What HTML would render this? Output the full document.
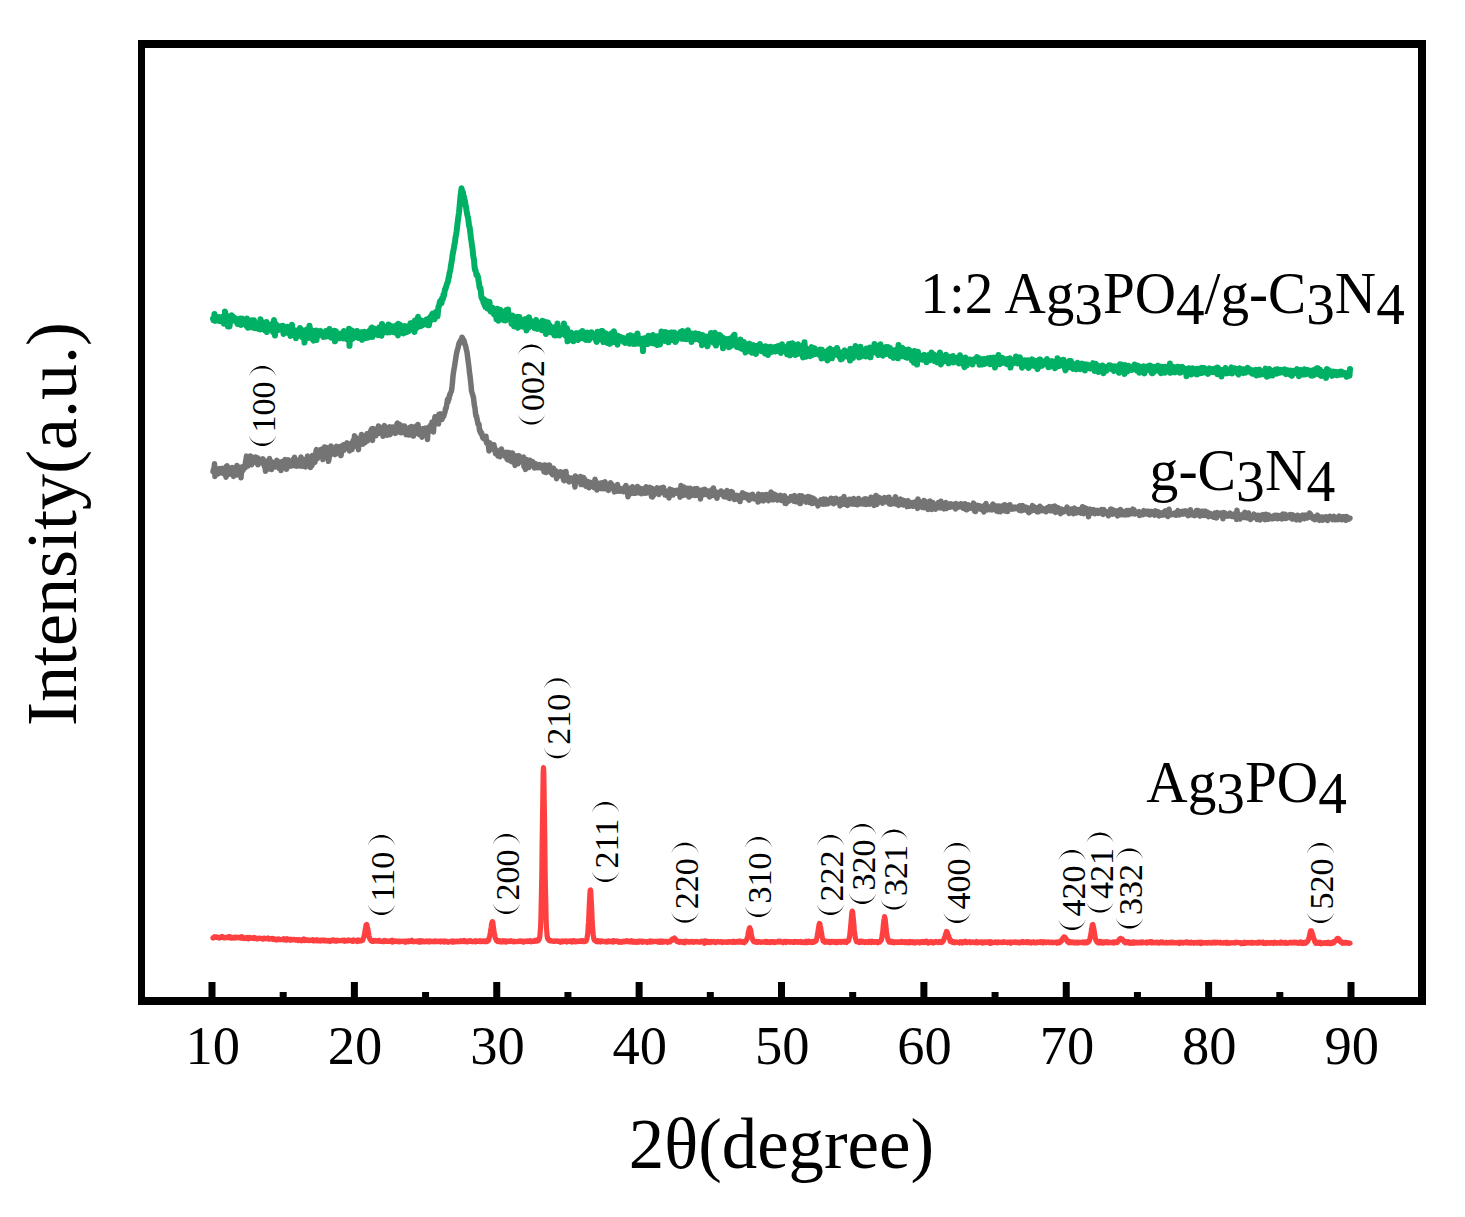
<!DOCTYPE html>
<html><head><meta charset="utf-8"><style>
html,body{margin:0;padding:0;background:#fff;width:1465px;height:1217px;overflow:hidden}
svg{display:block}
text{font-family:"Liberation Serif",serif;fill:#000}
.t{font-size:54.5px;text-anchor:middle}
.ax{font-size:72px;text-anchor:middle}
.lb{font-size:60px}
.h{font-size:34px}
</style></head><body>
<svg width="1465" height="1217" viewBox="0 0 1465 1217">
<rect x="0" y="0" width="1465" height="1217" fill="#fff"/>
<path d="M213.0,318.6l0.5,1.6 0.5,-1.4 0.5,-4.9 0.5,7 0.5,-1.2 0.5,-2.9 0.5,3.6 0.5,-0.6 0.5,-0.1 0.5,-0.7 0.5,1.8 0.5,-3.9 0.5,1.9 0.5,-0.9 0.5,3.4 0.5,-1.7 0.5,-0.9 0.5,-1.5 0.5,1.7 0.5,0.8 0.5,-0.8 0.5,4.9 0.5,-0.9 0.5,-11.4 0.5,2.5 0.5,5.4 0.5,-0.8 0.5,2 0.5,0.1 0.5,5.9 0.5,-10 0.5,2.3 0.5,7.5 0.5,-4.2 0.5,0 0.5,-3.6 0.5,-3.4 0.5,5.6 0.5,-0.1 0.5,-4.1 0.5,1.7 0.5,2 0.5,-2.7 0.5,2.7 0.5,0.7 0.5,-0.1 0.5,-1.6 0.5,3.6 0.5,1 0.5,-1.6 0.5,-3.4 0.5,4.9 0.5,-3.7 0.5,4.4 0.5,-5.9 0.5,6.3 0.5,-2.8 0.5,-3.6 0.5,3 0.5,1.3 0.5,0.8 0.5,-3.7 0.5,-0.3 0.5,4.2 0.5,-2 0.5,2.3 0.5,1.8 0.5,-7.4 0.5,6 0.5,3.2 0.5,-4.6 0.5,-1.5 0.5,5 0.5,-1.4 0.5,2.1 0.5,-3.7 0.5,-3.4 0.5,4.3 0.5,-0.9 0.5,3.9 0.5,-1.7 0.5,-5.5 0.5,1.4 0.5,6.5 0.5,-0.5 0.5,-4 0.5,2.1 0.5,1.4 0.5,0.2 0.5,1.3 0.5,-1.8 0.5,-1.1 0.5,-0.4 0.5,4.1 0.5,-10.2 0.5,6.6 0.5,0.5 0.5,-4.4 0.5,5.4 0.5,-3 0.5,4.7 0.5,-3 0.5,2.5 0.5,1.7 0.5,-2.5 0.5,-3.9 0.5,-1.9 0.5,10.1 0.5,-5.7 0.5,-1.7 0.5,2.6 0.5,-1 0.5,3.3 0.5,-2.5 0.5,0 0.5,-2.2 0.5,3.7 0.5,-4.5 0.5,5.3 0.5,2.7 0.5,-9.3 0.5,-2.8 0.5,9.6 0.5,6 0.5,-10.9 0.5,-0.6 0.5,5.7 0.5,-4.3 0.5,1.1 0.5,0.6 0.5,2.8 0.5,-2.8 0.5,2.3 0.5,-1.3 0.5,-2 0.5,1.7 0.5,-1.8 0.5,3 0.5,-3.4 0.5,0.2 0.5,8 0.5,-4.6 0.5,0.1 0.5,1.9 0.5,-2.8 0.5,0.7 0.5,2.2 0.5,-0.3 0.5,-4.4 0.5,6.3 0.5,-4.3 0.5,-1.3 0.5,0.6 0.5,1.7 0.5,6.3 0.5,-8.5 0.5,4.2 0.5,-6.9 0.5,6.7 0.5,2.9 0.5,-3.4 0.5,-1.1 0.5,2.7 0.5,1.6 0.5,-0.1 0.5,4.2 0.5,-5.4 0.5,-2.3 0.5,1.5 0.5,0.3 0.5,0.6 0.5,-0.3 0.5,0.7 0.5,-5.5 0.5,7.8 0.5,-4.3 0.5,-1.7 0.5,5.6 0.5,2.2 0.5,-2.4 0.5,-1 0.5,-3.3 0.5,11.8 0.5,-6.1 0.5,-6.1 0.5,1.1 0.5,2.7 0.5,-5 0.5,5.3 0.5,-1.9 0.5,5.3 0.5,-0.8 0.5,-11.3 0.5,8.5 0.5,-5.1 0.5,8.4 0.5,-2.9 0.5,1.2 0.5,-4.9 0.5,8.9 0.5,0.6 0.5,-9.5 0.5,4.4 0.5,-3.2 0.5,2.1 0.5,-3.8 0.5,9.6 0.5,-8.7 0.5,2.1 0.5,2.5 0.5,-3.6 0.5,1.3 0.5,-1 0.5,1.4 0.5,-3.2 0.5,2.3 0.5,0.7 0.5,-0.3 0.5,1.2 0.5,-1 0.5,3.2 0.5,-3.3 0.5,0.6 0.5,-1.5 0.5,0.4 0.5,-2.2 0.5,5.5 0.5,-5.1 0.5,1.3 0.5,3.4 0.5,0.2 0.5,-2.4 0.5,-5 0.5,7.6 0.5,-0.5 0.5,-5.1 0.5,6.8 0.5,-4.5 0.5,-1.2 0.5,3.8 0.5,-0.8 0.5,1.2 0.5,-5.5 0.5,10.6 0.5,-7.4 0.5,-2.8 0.5,6.7 0.5,-2.9 0.5,2.1 0.5,-2 0.5,0.9 0.5,1 0.5,-3 0.5,4.4 0.5,-3.4 0.5,-1.2 0.5,2.9 0.5,1.2 0.5,-2.1 0.5,-1.9 0.5,4.6 0.5,-7.3 0.5,2.2 0.5,3.3 0.5,-4.3 0.5,4.3 0.5,-0.3 0.5,2.9 0.5,-5.6 0.5,0.9 0.5,2.9 0.5,-8.6 0.5,17 0.5,-11.7 0.5,-0.1 0.5,4.8 0.5,-2.8 0.5,-5.4 0.5,7.3 0.5,0.6 0.5,-4 0.5,0.4 0.5,2.3 0.5,-4.4 0.5,4.1 0.5,-0.8 0.5,-2.8 0.5,-2.3 0.5,3.5 0.5,-2.1 0.5,5.7 0.5,-2.7 0.5,1.8 0.5,-2 0.5,0.3 0.5,-3.3 0.5,4.3 0.5,3.4 0.5,-6.6 0.5,-0.9 0.5,1.2 0.5,-1.1 0.5,-0.7 0.5,2.5 0.5,-1.4 0.5,5.2 0.5,-4.5 0.5,0.9 0.5,1.8 0.5,-3.9 0.5,5.2 0.5,-6.4 0.5,-0.6 0.5,1.3 0.5,0.7 0.5,-4 0.5,4.1 0.5,-5.1 0.5,9.3 0.5,-4.6 0.5,-1.8 0.5,-0.9 0.5,1.5 0.5,0.4 0.5,-2.6 0.5,0.3 0.5,2.1 0.5,-1.1 0.5,4.4 0.5,0.5 0.5,-3.5 0.5,1.3 0.5,-5.7 0.5,6 0.5,-2.2 0.5,1.5 0.5,3.3 0.5,-11.9 0.5,7.6 0.5,-4.2 0.5,5.1 0.5,-6 0.5,2.5 0.5,2 0.5,1.2 0.5,-1.8 0.5,-2.7 0.5,0.7 0.5,4.3 0.5,-2.8 0.5,-5.2 0.5,7.6 0.5,-1.3 0.5,1.3 0.5,-3.8 0.5,3.5 0.5,-5.8 0.5,4.9 0.5,-3.3 0.5,3.5 0.5,1 0.5,-5.3 0.5,2 0.5,0.3 0.5,3.5 0.5,-1.5 0.5,-5.9 0.5,5.1 0.5,0.8 0.5,4.2 0.5,-11.6 0.5,3.5 0.5,5.7 0.5,-8.2 0.5,0.4 0.5,5.3 0.5,1.5 0.5,-5.2 0.5,3.7 0.5,-1.3 0.5,4.3 0.5,-4.7 0.5,3.1 0.5,-5.8 0.5,2.2 0.5,0.2 0.5,3.8 0.5,-1.8 0.5,-4 0.5,4.3 0.5,0.3 0.5,-2.7 0.5,-0.5 0.5,0 0.5,-4.7 0.5,5.5 0.5,-0.1 0.5,-3.7 0.5,4.6 0.5,-6.8 0.5,2.2 0.5,-0.2 0.5,7.2 0.5,-11.3 0.5,6.2 0.5,0.9 0.5,-2.1 0.5,2.2 0.5,-6.9 0.5,-4.1 0.5,9.2 0.5,-6.2 0.5,2.5 0.5,-2.7 0.5,6.7 0.5,-0.7 0.5,-5 0.5,4.8 0.5,-2.5 0.5,-0.9 0.5,0.5 0.5,-0.9 0.5,2.3 0.5,-1.1 0.5,-2.1 0.5,3.9 0.5,-5.1 0.5,2.5 0.5,0.2 0.5,2.9 0.5,-6.3 0.5,6.5 0.5,-5.1 0.5,-1.5 0.5,-1.8 0.5,3.4 0.5,-2.1 0.5,-3.9 0.5,-0.6 0.5,1.2 0.5,-0.9 0.5,4.8 0.5,0.3 0.5,-2.1 0.5,-2.2 0.5,-3.1 0.5,0.5 0.5,1.5 0.5,2.7 0.5,-4.9 0.5,-4.9 0.5,-0.3 0.5,-2.8 0.5,-2.1 0.5,0.8 0.5,-0.7 0.5,1.7 0.5,-4.6 0.5,0.9 0.5,-0.7 0.5,-4.4 0.5,1.3 0.5,-3.1 0.5,-3.5 0.5,-0.2 0.5,-1.8 0.5,-1.7 0.5,-1.5 0.5,-1.3 0.5,-1.4 0.5,-3 0.5,-1.4 0.5,-3.9 0.5,-1.5 0.5,-2.7 0.5,-3.4 0.5,-2.9 0.5,-2.9 0.5,-4.2 0.5,-2.7 0.5,-2.5 0.5,-2.7 0.5,-3.5 0.5,-1.4 0.5,-5.2 0.5,-2.2 0.5,-2.9 0.5,-4.4 0.5,-4.1 0.5,-4.2 0.5,-3.4 0.5,-3.8 0.5,-5.1 0.5,-5.1 0.5,-6.1 0.5,-3.7 0.5,-4 0.5,2.3 0.5,1.1 0.5,0.7 0.5,4.9 0.5,-0.6 0.5,2.4 0.5,2.1 0.5,4.4 0.5,1 0.5,3.9 0.5,2.7 0.5,2.5 0.5,1.6 0.5,3.6 0.5,4.8 0.5,0.8 0.5,3.7 0.5,3.9 0.5,4.3 0.5,3.2 0.5,4.3 0.5,2.6 0.5,5.5 0.5,3.6 0.5,2.4 0.5,6.4 0.5,3.7 0.5,-0.1 0.5,2.5 0.5,2.6 0.5,-0.7 0.5,1.3 0.5,1.3 0.5,3.5 0.5,2.2 0.5,4.4 0.5,1.6 0.5,-0.7 0.5,5.2 0.5,4.3 0.5,0.7 0.5,1.5 0.5,0 0.5,3.1 0.5,-3.6 0.5,5.9 0.5,-2 0.5,4 0.5,-1.6 0.5,-4.4 0.5,3.9 0.5,3.6 0.5,-6.8 0.5,2.1 0.5,-0.3 0.5,-1.7 0.5,7.9 0.5,1.6 0.5,-1 0.5,-1.2 0.5,-0.3 0.5,1.5 0.5,-2.4 0.5,5.5 0.5,1 0.5,0.2 0.5,-3.9 0.5,2.4 0.5,-0.3 0.5,6.3 0.5,-4.4 0.5,-6 0.5,7.2 0.5,4.8 0.5,-3.4 0.5,0.9 0.5,-2.4 0.5,-5.8 0.5,0.7 0.5,1.9 0.5,3.6 0.5,1.5 0.5,1.3 0.5,-2.9 0.5,4.1 0.5,-3.6 0.5,-1.1 0.5,4.8 0.5,-5.1 0.5,-5.4 0.5,5.3 0.5,3.6 0.5,-9.4 0.5,8.4 0.5,0.3 0.5,-3.2 0.5,0 0.5,3.3 0.5,-0.1 0.5,5.6 0.5,-2.5 0.5,-5.8 0.5,2.3 0.5,4.9 0.5,3.7 0.5,-4.5 0.5,-0.1 0.5,4.7 0.5,-5.6 0.5,-0.8 0.5,-3.3 0.5,2.8 0.5,8.2 0.5,-10.8 0.5,4.3 0.5,-4.2 0.5,4.7 0.5,2.3 0.5,-3.4 0.5,3 0.5,0 0.5,-0.8 0.5,3.9 0.5,-2.7 0.5,-3.2 0.5,-1.1 0.5,-0.4 0.5,4.1 0.5,-2.3 0.5,9.3 0.5,-2.6 0.5,-6 0.5,-0.2 0.5,6.2 0.5,-10.6 0.5,4.5 0.5,4.4 0.5,-5.5 0.5,1.5 0.5,0.6 0.5,3.2 0.5,-1.4 0.5,1 0.5,0.8 0.5,-1.6 0.5,3.5 0.5,-5.4 0.5,-2 0.5,-0.8 0.5,0.6 0.5,3.4 0.5,5 0.5,-2.5 0.5,-2.2 0.5,-1.2 0.5,1.8 0.5,0.5 0.5,-0.4 0.5,-2.4 0.5,3 0.5,4.7 0.5,-9.5 0.5,6 0.5,-5.6 0.5,7.1 0.5,-2.6 0.5,-3.9 0.5,6.7 0.5,5.4 0.5,-5.1 0.5,3.4 0.5,-3.6 0.5,-6.1 0.5,8.1 0.5,-2.6 0.5,-3 0.5,6.9 0.5,-1.4 0.5,-2.3 0.5,4.4 0.5,-5.1 0.5,4.7 0.5,-4.6 0.5,4.6 0.5,-4.8 0.5,7.9 0.5,-3.5 0.5,3.7 0.5,-6.7 0.5,1.2 0.5,4.2 0.5,-10.7 0.5,5.3 0.5,6.5 0.5,-1.5 0.5,1.7 0.5,-3.7 0.5,2.8 0.5,-3.7 0.5,-1.7 0.5,-0.8 0.5,3.6 0.5,0.2 0.5,-0.1 0.5,-8.6 0.5,4.8 0.5,4.6 0.5,2.7 0.5,-2.5 0.5,-0.7 0.5,-4.2 0.5,13.1 0.5,-9.2 0.5,8.5 0.5,-0.3 0.5,-3.8 0.5,-2.4 0.5,2.2 0.5,-3.8 0.5,4.3 0.5,-0.8 0.5,1.6 0.5,1.3 0.5,2.4 0.5,-6.4 0.5,4.3 0.5,-5.5 0.5,-0.2 0.5,0.8 0.5,-1.1 0.5,5.9 0.5,-0.1 0.5,1 0.5,-3.9 0.5,1 0.5,-2.6 0.5,-1.7 0.5,4.8 0.5,-0.5 0.5,-4.1 0.5,5.1 0.5,-7 0.5,4.7 0.5,-1.4 0.5,0.3 0.5,-1.6 0.5,6.1 0.5,-1.1 0.5,1.8 0.5,-3.1 0.5,-4.3 0.5,2.8 0.5,-2.4 0.5,4.9 0.5,2.3 0.5,-2.7 0.5,-2.7 0.5,0.7 0.5,1.7 0.5,-4.9 0.5,4.8 0.5,0.2 0.5,-2.2 0.5,0.4 0.5,1.8 0.5,-2.9 0.5,0 0.5,4.9 0.5,-1.6 0.5,4.4 0.5,-8 0.5,-2.3 0.5,8.2 0.5,0.1 0.5,-5.1 0.5,-2.1 0.5,4.3 0.5,-5.1 0.5,4.3 0.5,-5.4 0.5,5.8 0.5,-5.6 0.5,5.7 0.5,5.3 0.5,-5.3 0.5,3.2 0.5,-4.2 0.5,-0.7 0.5,-1.8 0.5,7.7 0.5,-3.2 0.5,5.1 0.5,-8.4 0.5,2.9 0.5,1 0.5,4.1 0.5,1.3 0.5,-7.4 0.5,-1.3 0.5,-1.8 0.5,9.3 0.5,-4.2 0.5,-1.6 0.5,1.9 0.5,-7.5 0.5,2.6 0.5,8.1 0.5,-1.6 0.5,-0.7 0.5,-3.3 0.5,4.8 0.5,3.6 0.5,-8.9 0.5,3.8 0.5,-1.3 0.5,2.4 0.5,-1 0.5,-0.4 0.5,-2.2 0.5,2.6 0.5,-1.7 0.5,1.4 0.5,0.2 0.5,2.2 0.5,-3.7 0.5,0.8 0.5,4.1 0.5,-3.8 0.5,-0.1 0.5,3.3 0.5,-1.7 0.5,-0.6 0.5,0.4 0.5,-4.4 0.5,5.1 0.5,2.6 0.5,-2.2 0.5,-6.4 0.5,5.5 0.5,-3.5 0.5,2 0.5,1.1 0.5,-4 0.5,7.6 0.5,-4.2 0.5,2.5 0.5,-0.4 0.5,2.1 0.5,-0.5 0.5,-7.9 0.5,4.5 0.5,-6.5 0.5,5.1 0.5,3.4 0.5,0.6 0.5,1.1 0.5,-4.9 0.5,2.1 0.5,-0.7 0.5,3.5 0.5,0.9 0.5,-5.8 0.5,12.3 0.5,-11.3 0.5,-1.1 0.5,2.9 0.5,0.4 0.5,-0.7 0.5,-3.6 0.5,6.3 0.5,-4.2 0.5,4.3 0.5,-0.4 0.5,-8 0.5,0.8 0.5,-0.1 0.5,3.6 0.5,-0.6 0.5,0.6 0.5,-3.3 0.5,3.7 0.5,2.8 0.5,-8.2 0.5,3.3 0.5,1.3 0.5,-1.2 0.5,-0.2 0.5,5.8 0.5,-1.5 0.5,-1.4 0.5,-4.8 0.5,8.8 0.5,-5.6 0.5,-2.9 0.5,0.7 0.5,-0.5 0.5,7.7 0.5,-5.8 0.5,-0.5 0.5,-6.6 0.5,8.5 0.5,-5.4 0.5,-0.3 0.5,5.1 0.5,-4.5 0.5,5 0.5,0.8 0.5,-8.8 0.5,4.9 0.5,-4.4 0.5,4.5 0.5,2.8 0.5,-6.9 0.5,9.4 0.5,-6.4 0.5,-2.6 0.5,3.1 0.5,2.6 0.5,-6.5 0.5,4.1 0.5,-4.1 0.5,7.6 0.5,-3.1 0.5,-1.8 0.5,4.3 0.5,-6.9 0.5,2.7 0.5,6.6 0.5,-5.8 0.5,4.4 0.5,-3.5 0.5,-2.6 0.5,1.3 0.5,1 0.5,-1.5 0.5,-1.2 0.5,0.1 0.5,-2.1 0.5,4.8 0.5,0.8 0.5,1.1 0.5,-7.6 0.5,7.7 0.5,-2.4 0.5,-4.2 0.5,4.5 0.5,2.2 0.5,-0.9 0.5,0.6 0.5,0.6 0.5,-0.1 0.5,-2.8 0.5,-6 0.5,3.9 0.5,3.3 0.5,-2.5 0.5,3.5 0.5,0.3 0.5,-2.2 0.5,5.4 0.5,-8.4 0.5,5.6 0.5,-4.1 0.5,-0.9 0.5,4.1 0.5,-3.5 0.5,4.5 0.5,-6 0.5,3.7 0.5,-2.5 0.5,1.9 0.5,-0.3 0.5,-2.1 0.5,5.4 0.5,-5.5 0.5,1 0.5,5.6 0.5,0.4 0.5,-0.7 0.5,-0.9 0.5,5.9 0.5,-10.2 0.5,1.5 0.5,-0.6 0.5,5.8 0.5,-1.7 0.5,2.5 0.5,-0.2 0.5,-3.5 0.5,-1.6 0.5,-0.5 0.5,9.6 0.5,-3.6 0.5,-1 0.5,-2.7 0.5,0.4 0.5,-0.4 0.5,0.1 0.5,-6.1 0.5,7 0.5,-1 0.5,2.1 0.5,-0.3 0.5,2 0.5,-2.6 0.5,2.5 0.5,-9.9 0.5,4.3 0.5,8.4 0.5,-8.7 0.5,2.8 0.5,2.9 0.5,-4.7 0.5,4.8 0.5,-6.3 0.5,-1.5 0.5,1.8 0.5,-0.9 0.5,4.8 0.5,-0.9 0.5,2 0.5,-4 0.5,10.6 0.5,-7.8 0.5,0.2 0.5,1.5 0.5,-2 0.5,-1.1 0.5,2.1 0.5,2.5 0.5,-0.7 0.5,0.9 0.5,-4.4 0.5,-0.5 0.5,8.3 0.5,-6.5 0.5,2.3 0.5,0.9 0.5,2.1 0.5,-8 0.5,2.8 0.5,0.3 0.5,0.6 0.5,-6 0.5,7 0.5,-8 0.5,9.6 0.5,0.9 0.5,0.4 0.5,-5.1 0.5,6.6 0.5,-5.2 0.5,-0.8 0.5,0.9 0.5,0.6 0.5,3.2 0.5,2.1 0.5,-8.4 0.5,4.8 0.5,4.4 0.5,-1.9 0.5,1 0.5,-5.8 0.5,7.4 0.5,-7.3 0.5,5.3 0.5,3.5 0.5,1.6 0.5,-3.9 0.5,1.2 0.5,-4.3 0.5,0.5 0.5,4.9 0.5,-3.3 0.5,-0.3 0.5,-3.7 0.5,4.7 0.5,1.5 0.5,-4.1 0.5,0.9 0.5,6.2 0.5,-4 0.5,-1.3 0.5,-2.4 0.5,1.6 0.5,1.1 0.5,4.8 0.5,-5.7 0.5,7.1 0.5,-8 0.5,1.8 0.5,3.5 0.5,-3.1 0.5,-1.7 0.5,2.1 0.5,1.7 0.5,-6.3 0.5,4.3 0.5,0.4 0.5,-0.9 0.5,3.4 0.5,-3.9 0.5,0.6 0.5,1.2 0.5,2 0.5,-2.7 0.5,5 0.5,-7.1 0.5,6.5 0.5,-6.3 0.5,2 0.5,1.6 0.5,4.9 0.5,-3.4 0.5,-3.8 0.5,5 0.5,-4.4 0.5,-1.7 0.5,3.6 0.5,-1 0.5,2.5 0.5,-4.4 0.5,2.7 0.5,0.8 0.5,-1.1 0.5,-0.9 0.5,-1.9 0.5,4.6 0.5,-2.2 0.5,1.1 0.5,-2.5 0.5,1 0.5,-3 0.5,3.3 0.5,1.9 0.5,-1.9 0.5,2.2 0.5,-1.6 0.5,3.1 0.5,-4.6 0.5,-4.2 0.5,6.1 0.5,-1.8 0.5,-2.4 0.5,4.8 0.5,-1.1 0.5,0.5 0.5,-2.3 0.5,1.6 0.5,0.1 0.5,4.5 0.5,-7.2 0.5,2 0.5,1.1 0.5,-6.1 0.5,0.3 0.5,11 0.5,-11.5 0.5,6.9 0.5,-4.2 0.5,0.3 0.5,-3.6 0.5,3.2 0.5,4.9 0.5,-6.4 0.5,5.8 0.5,-0.8 0.5,5 0.5,-7.3 0.5,5.1 0.5,-1 0.5,-3.4 0.5,-4 0.5,9.4 0.5,-8.3 0.5,2.6 0.5,4.1 0.5,0.8 0.5,-5.7 0.5,2.5 0.5,-0.5 0.5,4.3 0.5,3.9 0.5,-12.5 0.5,8.1 0.5,-10.8 0.5,8.5 0.5,-3.2 0.5,9.2 0.5,-5.2 0.5,-2.6 0.5,0.8 0.5,-0.1 0.5,2.4 0.5,-0.9 0.5,2.4 0.5,2.7 0.5,-2.4 0.5,-5.5 0.5,-1.1 0.5,2.6 0.5,5.3 0.5,-4 0.5,-0.9 0.5,2.4 0.5,-4.4 0.5,0.8 0.5,4.9 0.5,-2.3 0.5,-0.4 0.5,2.3 0.5,-2.6 0.5,-0.2 0.5,0.7 0.5,3.2 0.5,-1.6 0.5,-3.6 0.5,2.7 0.5,2.8 0.5,3.6 0.5,-8.7 0.5,4.4 0.5,-1.7 0.5,3.2 0.5,-1.1 0.5,3 0.5,-2.7 0.5,-3.1 0.5,0 0.5,2.8 0.5,0 0.5,5.8 0.5,-2 0.5,-8.3 0.5,4.4 0.5,-4.9 0.5,-0.9 0.5,7 0.5,-0.6 0.5,-4.6 0.5,7.8 0.5,-7.6 0.5,-0.6 0.5,5.3 0.5,-1.3 0.5,-1.1 0.5,0.3 0.5,0.9 0.5,-1.1 0.5,-0.1 0.5,-5 0.5,1.6 0.5,5.7 0.5,-3.8 0.5,3.6 0.5,2 0.5,-4.6 0.5,1.8 0.5,5.2 0.5,-4 0.5,3.3 0.5,-0.8 0.5,-2.3 0.5,-2.5 0.5,-2.1 0.5,-0.8 0.5,4.6 0.5,0 0.5,-1.9 0.5,3 0.5,-4.3 0.5,5 0.5,-3.1 0.5,-0.2 0.5,0 0.5,-0.3 0.5,7.5 0.5,-11.9 0.5,5.1 0.5,3.1 0.5,-1.6 0.5,-3 0.5,5.8 0.5,-8.1 0.5,-0.7 0.5,5.3 0.5,-5.9 0.5,-2.7 0.5,9.3 0.5,-0.4 0.5,-0.1 0.5,-3.6 0.5,1.9 0.5,-3.4 0.5,7.7 0.5,-2.8 0.5,-0.2 0.5,-7.7 0.5,7.8 0.5,1.9 0.5,-0.8 0.5,-1.3 0.5,-2.3 0.5,-1 0.5,2.7 0.5,-0.7 0.5,-0.4 0.5,-1.6 0.5,5.6 0.5,-8.1 0.5,3.2 0.5,-1.6 0.5,4.5 0.5,1 0.5,-0.5 0.5,-1.4 0.5,-6.1 0.5,9.7 0.5,-4.4 0.5,-1.8 0.5,0.3 0.5,-1 0.5,2.1 0.5,-0.4 0.5,-1.9 0.5,-6.1 0.5,7 0.5,1.4 0.5,0.1 0.5,-1.9 0.5,1.6 0.5,1.6 0.5,-4.2 0.5,5.4 0.5,-9.5 0.5,1.9 0.5,1 0.5,-4.2 0.5,4 0.5,6.1 0.5,0 0.5,-3.1 0.5,4.4 0.5,-4 0.5,-2 0.5,2 0.5,-1 0.5,2.4 0.5,-6.1 0.5,6.9 0.5,-4 0.5,3.6 0.5,-6.4 0.5,3 0.5,1.4 0.5,2.3 0.5,-5.7 0.5,7.8 0.5,-3.2 0.5,-2.7 0.5,4.8 0.5,-3 0.5,2.9 0.5,3.2 0.5,-4.2 0.5,-3.4 0.5,0.3 0.5,2.8 0.5,-0.8 0.5,-2.9 0.5,0.5 0.5,3.6 0.5,4.5 0.5,-13.2 0.5,9 0.5,-2.4 0.5,2.7 0.5,0.3 0.5,-2.1 0.5,-2.7 0.5,-0.9 0.5,-1.1 0.5,8.3 0.5,-3.7 0.5,-0.7 0.5,0.8 0.5,-2.7 0.5,4.5 0.5,2.8 0.5,-0.3 0.5,-7 0.5,7.8 0.5,-5.4 0.5,-2.8 0.5,1.9 0.5,0.8 0.5,2.6 0.5,-2.5 0.5,-1.1 0.5,3.4 0.5,5.8 0.5,-6.7 0.5,3.1 0.5,-0.9 0.5,6.8 0.5,-11.6 0.5,7.8 0.5,-6.1 0.5,1.9 0.5,1.4 0.5,8.5 0.5,-10.1 0.5,-2.7 0.5,8.2 0.5,-5.4 0.5,1.6 0.5,0.7 0.5,0.4 0.5,-0.6 0.5,1.2 0.5,0.4 0.5,1.3 0.5,-3.2 0.5,-0.7 0.5,-0.8 0.5,4.3 0.5,-1.5 0.5,1.6 0.5,0 0.5,3 0.5,-3.7 0.5,1.4 0.5,-4.8 0.5,0.4 0.5,1.9 0.5,-2.2 0.5,4.9 0.5,-5 0.5,3.5 0.5,-6.3 0.5,3.5 0.5,1.9 0.5,0.2 0.5,-3.7 0.5,4.7 0.5,2.2 0.5,-0.8 0.5,-3.2 0.5,0.2 0.5,-1.4 0.5,4.5 0.5,2 0.5,-4.8 0.5,-2.9 0.5,4.7 0.5,1.3 0.5,-8.4 0.5,7.1 0.5,4.9 0.5,-3.2 0.5,-0.7 0.5,-0.3 0.5,1.6 0.5,-4.8 0.5,0.2 0.5,3.1 0.5,-2.6 0.5,2.3 0.5,-5.3 0.5,6.5 0.5,0.3 0.5,-2 0.5,0.3 0.5,3.6 0.5,-6.5 0.5,0.4 0.5,-0.4 0.5,1.7 0.5,-1.4 0.5,2.5 0.5,-1.6 0.5,-1.9 0.5,-0.2 0.5,6.6 0.5,-3 0.5,-0.4 0.5,0.7 0.5,-0.3 0.5,2.1 0.5,-0.5 0.5,-2.7 0.5,-0.5 0.5,-0.6 0.5,-0.4 0.5,6.4 0.5,-5.5 0.5,-2.6 0.5,2.8 0.5,0.1 0.5,2.7 0.5,-2.8 0.5,3.4 0.5,-0.3 0.5,2.1 0.5,2.2 0.5,1.6 0.5,-3.5 0.5,-6 0.5,1.8 0.5,1.6 0.5,4.4 0.5,-3.3 0.5,1.2 0.5,-3.2 0.5,1.8 0.5,0.3 0.5,-2.7 0.5,2.9 0.5,0.7 0.5,-2.9 0.5,2.8 0.5,1.5 0.5,-3.7 0.5,-0.1 0.5,-0.8 0.5,-0.7 0.5,1.9 0.5,-1.4 0.5,0.3 0.5,-1.1 0.5,-1.8 0.5,1.4 0.5,3 0.5,-3.6 0.5,1.3 0.5,5.5 0.5,-1.3 0.5,-4.3 0.5,3.1 0.5,-3 0.5,5.4 0.5,-5.2 0.5,1.6 0.5,3.1 0.5,-5.2 0.5,5 0.5,-5 0.5,2.5 0.5,-1.3 0.5,0.5 0.5,0.6 0.5,-0.5 0.5,-2.3 0.5,4.5 0.5,-0.3 0.5,1.3 0.5,0.2 0.5,-6.4 0.5,6.2 0.5,0 0.5,-4.3 0.5,3.7 0.5,1 0.5,-4.7 0.5,-2 0.5,2.5 0.5,7.4 0.5,-6 0.5,-3.4 0.5,2.2 0.5,-1.7 0.5,1.4 0.5,1.2 0.5,-6.3 0.5,6.9 0.5,2.5 0.5,-3.8 0.5,-0.4 0.5,3.5 0.5,-5.6 0.5,0.1 0.5,-0.3 0.5,2.9 0.5,1.3 0.5,-1.1 0.5,1.5 0.5,0.7 0.5,-0.7 0.5,-3.1 0.5,1.3 0.5,3.6 0.5,-5.3 0.5,1.9 0.5,-0.3 0.5,0.6 0.5,-2.1 0.5,-0.6 0.5,9.2 0.5,-3.7 0.5,-3.8 0.5,1.5 0.5,1.8 0.5,-2.3 0.5,2.3 0.5,-2.9 0.5,0.7 0.5,0.7 0.5,-0.8 0.5,-4.6 0.5,5.8 0.5,0.6 0.5,0.5 0.5,-3.3 0.5,3.1 0.5,-0.2 0.5,-4.6 0.5,-1 0.5,6.3 0.5,-3.3 0.5,4.6 0.5,2.7 0.5,-6.3 0.5,-0.2 0.5,1.6 0.5,1.6 0.5,-4.1 0.5,5.5 0.5,-0.5 0.5,-0.8 0.5,-2.8 0.5,3.4 0.5,-0.1 0.5,-4.8 0.5,7.7 0.5,-5.5 0.5,1.5 0.5,-2 0.5,2.1 0.5,1.8 0.5,-4.6 0.5,-1.9 0.5,2.8 0.5,-2 0.5,1.3 0.5,1.5 0.5,0.1 0.5,3.2 0.5,-5.4 0.5,3.2 0.5,-2 0.5,4.4 0.5,2.7 0.5,-5.2 0.5,3.2 0.5,-5.1 0.5,-2.5 0.5,0.8 0.5,-0.7 0.5,1.5 0.5,1.6 0.5,3.2 0.5,-1 0.5,-0.5 0.5,-2.1 0.5,-0.7 0.5,1.8 0.5,0.2 0.5,0.3 0.5,0.3 0.5,-1.1 0.5,-4.2 0.5,1.9 0.5,0.7 0.5,5.8 0.5,-4.9 0.5,2.6 0.5,1.8 0.5,-2.6 0.5,-1.6 0.5,0.2 0.5,-1.7 0.5,3.1 0.5,1.9 0.5,-1.2 0.5,0.4 0.5,-0.1 0.5,3 0.5,-6 0.5,1.9 0.5,1.2 0.5,1.3 0.5,-8.4 0.5,4.5 0.5,0.7 0.5,-1.8 0.5,4.3 0.5,-1.4 0.5,-1.3 0.5,-2.8 0.5,0.8 0.5,0.8 0.5,3.3 0.5,-3.7 0.5,-1.9 0.5,1.5 0.5,2 0.5,5.2 0.5,2 0.5,-6.8 0.5,3.3 0.5,1.1 0.5,-0.2 0.5,-3.1 0.5,-2.7 0.5,2 0.5,-3.1 0.5,4.8 0.5,1.3 0.5,-6 0.5,4.3 0.5,0.8 0.5,2.2 0.5,0.4 0.5,-1.3 0.5,-3.3 0.5,0.8 0.5,3.6 0.5,-4.1 0.5,1.3 0.5,3.7 0.5,-3.2 0.5,-3.4 0.5,2.5 0.5,2.2 0.5,-1.9 0.5,3.1 0.5,0.4 0.5,-4.4 0.5,0.4 0.5,0.9 0.5,-2.4 0.5,3.6 0.5,-1.3 0.5,2.3 0.5,-3.1 0.5,-0.6 0.5,6.1 0.5,-6.1 0.5,0.7 0.5,-0.3 0.5,1 0.5,-1.3 0.5,2 0.5,-1.5 0.5,0.7 0.5,1.8 0.5,0.8 0.5,-0.5 0.5,-2.7 0.5,2.6 0.5,-1.2 0.5,0.1 0.5,-3.6 0.5,5.4 0.5,-1.8 0.5,4.2 0.5,-2.4 0.5,-3.9 0.5,-0.6 0.5,5.8 0.5,-4.6 0.5,3.6 0.5,-2.2 0.5,5.4 0.5,-4.5 0.5,3.2 0.5,-0.4 0.5,-4 0.5,0.3 0.5,4.2 0.5,-3.4 0.5,-1.9 0.5,4.7 0.5,3.1 0.5,-5.8 0.5,3.2 0.5,-3.5 0.5,3.5 0.5,-3.6 0.5,3.6 0.5,-1.8 0.5,-1.6 0.5,1 0.5,-1.7 0.5,-1.3 0.5,0.2 0.5,2.3 0.5,-2.3 0.5,3.4 0.5,0.3 0.5,-0.2 0.5,-2.1 0.5,1.3 0.5,-0.2 0.5,3 0.5,-4.7 0.5,1 0.5,0.3 0.5,0.2 0.5,-1.3 0.5,0.3 0.5,3.7 0.5,-3.7 0.5,3.5 0.5,2.5 0.5,-1.7 0.5,-6.8 0.5,5.8 0.5,-0.7 0.5,0.2 0.5,-4.9 0.5,5.4 0.5,-4.1 0.5,5.3 0.5,-0.5 0.5,3.3 0.5,-6.5 0.5,-2.5 0.5,5.7 0.5,-0.4 0.5,-2.8 0.5,3.9 0.5,-1.4 0.5,-4.4 0.5,2.1 0.5,-0.2 0.5,0.7 0.5,0.7 0.5,-2 0.5,1.1 0.5,1.8 0.5,-1.5 0.5,-0.4 0.5,-0.1 0.5,0.5 0.5,-4 0.5,4.6 0.5,-2.6 0.5,2.5 0.5,-3.5 0.5,5.3 0.5,-1.5 0.5,-3.5 0.5,3.5 0.5,-2.2 0.5,5.7 0.5,-2.9 0.5,-2.8 0.5,2.2 0.5,-0.5 0.5,2.7 0.5,-1.9 0.5,0.4 0.5,-3.6 0.5,4.2 0.5,2.9 0.5,-3.2 0.5,-1.5 0.5,0.5 0.5,-2.5 0.5,2.5 0.5,-2.8 0.5,2.5 0.5,-0.9 0.5,-1 0.5,3.1 0.5,-4.5 0.5,3.2 0.5,-2.8 0.5,6.9 0.5,0.3 0.5,-2.4 0.5,2.3 0.5,-2.9 0.5,-0.1 0.5,-2.1 0.5,-1 0.5,2.2 0.5,-1.4 0.5,0.2 0.5,2.6 0.5,-1.9 0.5,-3.1 0.5,3 0.5,-1.2 0.5,1 0.5,-1.7 0.5,5 0.5,1.5 0.5,-6.5 0.5,3.8 0.5,-0.1 0.5,-3.5 0.5,2.5 0.5,2.8 0.5,-1.2 0.5,1.7 0.5,-6 0.5,1 0.5,2.2 0.5,0.2 0.5,-0.7 0.5,-0.9 0.5,0 0.5,-0.4 0.5,2.2 0.5,-6.7 0.5,9.2 0.5,-4.5 0.5,-1.9 0.5,4.2 0.5,-4.1 0.5,3.8 0.5,-1.6 0.5,2.1 0.5,0.4 0.5,1.1 0.5,-3.7 0.5,0.4 0.5,0.6 0.5,-2.9 0.5,4.2 0.5,-0.9 0.5,-3.1 0.5,5.3 0.5,0.4 0.5,-5.6 0.5,4 0.5,1.4 0.5,-0.8 0.5,-3.8 0.5,-0.8 0.5,2.6 0.5,-0.7 0.5,1 0.5,-0.2 0.5,1.4 0.5,-2.2 0.5,0.8 0.5,6.5 0.5,-6.4 0.5,1.8 0.5,-0.9 0.5,-0.1 0.5,-2.3 0.5,3 0.5,-1.2 0.5,1.8 0.5,2.6 0.5,-3.8 0.5,1.2 0.5,-3.6 0.5,2.3 0.5,2.9 0.5,-3.2 0.5,-1.2 0.5,1.8 0.5,-0.8 0.5,-0.1 0.5,-0.3 0.5,4.8 0.5,-5.7 0.5,0.9 0.5,-0.3 0.5,3.6 0.5,-3 0.5,3.2 0.5,-2.3 0.5,-0.4 0.5,-2.8 0.5,5.3 0.5,-1.3 0.5,-0.3 0.5,-1 0.5,-0.6 0.5,-1.7 0.5,4.4 0.5,-1.4 0.5,-1.2 0.5,-0.5 0.5,1.4 0.5,-0.4 0.5,3.5 0.5,-1.8 0.5,-2.6 0.5,-1 0.5,1.7 0.5,-1.3 0.5,1.9 0.5,0.6 0.5,0.5 0.5,-0.4 0.5,-1.2 0.5,1.5 0.5,-2.9 0.5,1.6 0.5,1.7 0.5,-1 0.5,-3 0.5,0.2 0.5,-0.8 0.5,6.6 0.5,-6.5 0.5,2.7 0.5,3.8 0.5,-1.4 0.5,0.4 0.5,-3.5 0.5,2.4 0.5,4.4 0.5,-5.9 0.5,0.9 0.5,-1.4 0.5,0.6 0.5,0.7 0.5,2 0.5,-4.4 0.5,-1 0.5,2.8 0.5,0.4 0.5,2.2 0.5,-1.3 0.5,-2.5 0.5,2.3 0.5,1 0.5,-1.6 0.5,-1.1 0.5,1.9 0.5,-1.9 0.5,-2.8 0.5,6 0.5,-4.9 0.5,1.8 0.5,0 0.5,0 0.5,0.1 0.5,-2.1 0.5,3.6 0.5,-0.9 0.5,0.1 0.5,1.9 0.5,0.1 0.5,0.4 0.5,1 0.5,-2.6 0.5,-3.6 0.5,3.2 0.5,-0.3 0.5,0.1 0.5,-1.2 0.5,-0.5 0.5,3.1 0.5,0.3 0.5,-3.8 0.5,3.1 0.5,-1.3 0.5,-0.4 0.5,2 0.5,-1.3 0.5,-0.9 0.5,1.1 0.5,-3.7 0.5,2.6 0.5,0.3 0.5,-1.7 0.5,2.9 0.5,0.1 0.5,-1.5 0.5,0.8 0.5,1.5 0.5,0.7 0.5,-3.2 0.5,2 0.5,1.3 0.5,-1.9 0.5,-1.4 0.5,0.1 0.5,0.8 0.5,-1.3 0.5,5.5 0.5,-4.6 0.5,1.7 0.5,-0.3 0.5,0.8 0.5,-1.8 0.5,-1.6 0.5,5.2 0.5,-3 0.5,0.3 0.5,0.2 0.5,1.9 0.5,-0.9 0.5,0.8 0.5,-0.6 0.5,-1.2 0.5,0.2 0.5,-1.8 0.5,-2.1 0.5,3 0.5,-1.5 0.5,6.6 0.5,-1.9 0.5,-0.6 0.5,-3.1 0.5,4.7 0.5,-6.7 0.5,0.9 0.5,0.7 0.5,-0.3 0.5,2 0.5,0.1 0.5,3 0.5,-1.6 0.5,0.4 0.5,-1.4 0.5,-1 0.5,-0.9 0.5,-1.5 0.5,1.1 0.5,0.9 0.5,2.1 0.5,-4.4 0.5,0.6 0.5,2.8 0.5,-2.2 0.5,2.4 0.5,-1.3 0.5,-0.6 0.5,-1 0.5,2.2 0.5,-1.1 0.5,0.2 0.5,-0.1 0.5,1.5 0.5,-0.1 0.5,-3.2 0.5,2.7 0.5,1 0.5,1.1 0.5,-0.4 0.5,-1 0.5,-2.4 0.5,0.7 0.5,2.9 0.5,-2.8 0.5,3 0.5,0.5 0.5,-4.1 0.5,2.6 0.5,-0.9 0.5,3.7 0.5,-2.1 0.5,-2.3 0.5,1.6 0.5,-2.3 0.5,1.3 0.5,0.7 0.5,-0.1 0.5,0.3 0.5,-2.2 0.5,-1.6 0.5,2.6 0.5,-0.9 0.5,0.3 0.5,5 0.5,-1.7 0.5,-2.3 0.5,-2.2 0.5,0.2 0.5,2.9 0.5,1.3 0.5,-2.4 0.5,0.8 0.5,0.2 0.5,1.4 0.5,-5.1 0.5,3.6 0.5,0.4 0.5,1 0.5,-1 0.5,-2.6 0.5,0.9 0.5,-1.6 0.5,3 0.5,0 0.5,0.6 0.5,-2.6 0.5,-0.2 0.5,4.6 0.5,-2.3 0.5,2.7 0.5,-2.2 0.5,-3.3 0.5,3.9 0.5,0.8 0.5,-2.9 0.5,-2.6 0.5,4.5 0.5,-1.3 0.5,0.7 0.5,-5.1 0.5,5.4 0.5,-5.5 0.5,3.3 0.5,3 0.5,-4.6 0.5,-0.1 0.5,2.5 0.5,3.6 0.5,0 0.5,-3.9 0.5,2.8 0.5,-0.7 0.5,-0.5 0.5,0.2 0.5,-1.9 0.5,2.7 0.5,0.4 0.5,2.9 0.5,-3.1 0.5,-5.8 0.5,2.2 0.5,2.6 0.5,-0.4 0.5,-3.3 0.5,3 0.5,-0.4 0.5,0.5 0.5,-0.1 0.5,1.8 0.5,1 0.5,-1.3 0.5,-3.1 0.5,0.4 0.5,0.4 0.5,1 0.5,-0.6 0.5,0.2 0.5,-1 0.5,3.2 0.5,-0.2 0.5,0.2 0.5,-1.7 0.5,0.9 0.5,-2.3 0.5,-0.2 0.5,0.8 0.5,2 0.5,-1.3 0.5,-1.7 0.5,2.1 0.5,0.6 0.5,-0.4 0.5,-1.4 0.5,1.2 0.5,-0.8 0.5,0.2 0.5,0.4 0.5,1.4 0.5,1.9 0.5,-0.5 0.5,-1.6 0.5,-1.7 0.5,0.2 0.5,0 0.5,2.5 0.5,-6.7" fill="none" stroke="#00b064" stroke-width="6" stroke-linejoin="round" stroke-linecap="round"/>
<path d="M213.0,471.6l0.5,-2.2 0.5,0.4 0.5,-6.1 0.5,12.7 0.5,-2 0.5,-4.4 0.5,3.3 0.5,-1.5 0.5,-2.5 0.5,4.6 0.5,-3.8 0.5,-0.1 0.5,-1.4 0.5,3.8 0.5,-1.7 0.5,1.9 0.5,-3.4 0.5,2.2 0.5,-3.1 0.5,5.2 0.5,-1.9 0.5,0.4 0.5,0.2 0.5,-4.2 0.5,5.3 0.5,3.9 0.5,-11.1 0.5,-0.3 0.5,0.7 0.5,7 0.5,-2.1 0.5,2.8 0.5,-1 0.5,-1.6 0.5,0.3 0.5,-1.4 0.5,3.1 0.5,-6 0.5,2.1 0.5,2 0.5,4.7 0.5,-7.7 0.5,-0.9 0.5,1.5 0.5,4.6 0.5,-3.6 0.5,4.7 0.5,-9.6 0.5,9 0.5,-0.3 0.5,-7.4 0.5,4.8 0.5,3.1 0.5,-3.3 0.5,2.6 0.5,3.9 0.5,-6.7 0.5,-2.1 0.5,-2.1 0.5,3.7 0.5,-3.1 0.5,-0.5 0.5,-0.5 0.5,1.5 0.5,-6 0.5,-2.3 0.5,-3.6 0.5,10.1 0.5,-4 0.5,3.8 0.5,-4.9 0.5,-2.6 0.5,3.4 0.5,-2 0.5,-3.8 0.5,0.9 0.5,7.8 0.5,-4.2 0.5,0.2 0.5,-2.1 0.5,-1.2 0.5,4.8 0.5,-3 0.5,-1.9 0.5,2 0.5,-2.3 0.5,3.4 0.5,2.9 0.5,-5.7 0.5,7 0.5,-5.9 0.5,2.9 0.5,-2.4 0.5,2.3 0.5,1.2 0.5,-1 0.5,-0.6 0.5,0.3 0.5,-0.4 0.5,-2.2 0.5,4 0.5,2.1 0.5,1.6 0.5,-0.7 0.5,5.4 0.5,-6.3 0.5,-2.3 0.5,7 0.5,-8.7 0.5,6.1 0.5,-5.7 0.5,4 0.5,-7 0.5,8.7 0.5,-3.2 0.5,-2.4 0.5,8 0.5,-2.8 0.5,-2.1 0.5,-2.4 0.5,2.2 0.5,-0.4 0.5,2.7 0.5,0.2 0.5,-4.4 0.5,0.3 0.5,0.1 0.5,-2.5 0.5,2.3 0.5,1.5 0.5,2.3 0.5,1.9 0.5,-6.4 0.5,4.1 0.5,-3.1 0.5,7.6 0.5,-6.4 0.5,1.6 0.5,-4.3 0.5,0.3 0.5,3 0.5,-1.7 0.5,2.1 0.5,-5.7 0.5,6.6 0.5,-4.7 0.5,7.8 0.5,-6 0.5,4.1 0.5,-7.5 0.5,5.5 0.5,-4 0.5,1.2 0.5,1.5 0.5,-1.1 0.5,1.7 0.5,1.4 0.5,-0.3 0.5,-2.3 0.5,-3.8 0.5,1.6 0.5,1.8 0.5,-5.8 0.5,8.5 0.5,-3 0.5,-0.1 0.5,3.6 0.5,-0.9 0.5,-1.4 0.5,-3.7 0.5,3.9 0.5,0 0.5,-3.7 0.5,5.7 0.5,-1.6 0.5,-7.5 0.5,6.2 0.5,-4.2 0.5,7.2 0.5,-1.1 0.5,-5.7 0.5,0.6 0.5,2.9 0.5,-1.1 0.5,5.2 0.5,-2.4 0.5,-3.1 0.5,2.5 0.5,-7.9 0.5,7 0.5,1.6 0.5,-3.2 0.5,-1.7 0.5,3.7 0.5,4.1 0.5,-5.4 0.5,-4.1 0.5,7.6 0.5,-10.1 0.5,6.9 0.5,-3.6 0.5,3.9 0.5,-6.2 0.5,5.6 0.5,-4 0.5,-7 0.5,-1.5 0.5,4.4 0.5,4.3 0.5,-4 0.5,-0.6 0.5,-1.3 0.5,2.6 0.5,-1.3 0.5,-0.4 0.5,-3.8 0.5,6.6 0.5,0.5 0.5,-8 0.5,10.8 0.5,-4.7 0.5,-3.6 0.5,-4.2 0.5,7.7 0.5,-0.3 0.5,-3.5 0.5,-3.5 0.5,8.7 0.5,-5.1 0.5,0.4 0.5,9.9 0.5,-2.1 0.5,-3.5 0.5,-4.3 0.5,3.3 0.5,-8.7 0.5,7.1 0.5,-2.7 0.5,-1.6 0.5,-1 0.5,6.3 0.5,-1.5 0.5,0.1 0.5,1.9 0.5,-5.2 0.5,-1.3 0.5,-1.8 0.5,4.1 0.5,3.1 0.5,-2.9 0.5,2.2 0.5,-5.6 0.5,1.9 0.5,-1 0.5,-1.7 0.5,9.2 0.5,-3.2 0.5,-5 0.5,-0.2 0.5,1.9 0.5,-4.4 0.5,5.5 0.5,-5.4 0.5,2.5 0.5,-2.2 0.5,1.4 0.5,-2.8 0.5,-0.9 0.5,1.6 0.5,0.6 0.5,0.9 0.5,0.9 0.5,4.1 0.5,-2.4 0.5,-3.4 0.5,2.7 0.5,-4.5 0.5,6.2 0.5,-3 0.5,-5.9 0.5,6.1 0.5,-0.1 0.5,-10.8 0.5,5.6 0.5,0.6 0.5,-4.6 0.5,2.3 0.5,0.1 0.5,4.1 0.5,-0.9 0.5,6.7 0.5,-9.3 0.5,4.4 0.5,-3.5 0.5,0.3 0.5,-4.6 0.5,-2.5 0.5,3.2 0.5,4.3 0.5,2.1 0.5,-3.2 0.5,-0.7 0.5,-4.3 0.5,6.8 0.5,-0.9 0.5,-5.9 0.5,1.1 0.5,-3.2 0.5,7.1 0.5,-3.5 0.5,-1.8 0.5,1.2 0.5,-0.2 0.5,-2.8 0.5,-2.7 0.5,-0.4 0.5,-1.6 0.5,6.4 0.5,5 0.5,-12 0.5,5.3 0.5,0.6 0.5,-4.4 0.5,3.3 0.5,-4.1 0.5,6.6 0.5,-5.6 0.5,1.9 0.5,1.6 0.5,-3.5 0.5,-4.3 0.5,3.6 0.5,3.8 0.5,-2.7 0.5,0.9 0.5,-4.1 0.5,3.7 0.5,1.7 0.5,-2.1 0.5,5.6 0.5,-6.4 0.5,-2.5 0.5,-1.8 0.5,8.3 0.5,-3.6 0.5,3.2 0.5,-1.7 0.5,3.5 0.5,-1.1 0.5,-4.9 0.5,1.9 0.5,2.5 0.5,-7 0.5,8 0.5,-0.7 0.5,-0.7 0.5,-3.6 0.5,1.5 0.5,-4.3 0.5,3.5 0.5,-2 0.5,2 0.5,-1.8 0.5,2.2 0.5,2.6 0.5,-7.5 0.5,6.6 0.5,-8.8 0.5,-0.6 0.5,6 0.5,0.3 0.5,1.2 0.5,-6.3 0.5,4.7 0.5,0.5 0.5,3.3 0.5,-4.1 0.5,1.9 0.5,-4.5 0.5,2.3 0.5,-0.7 0.5,3.5 0.5,-5.1 0.5,0.6 0.5,4.3 0.5,3.7 0.5,-4.2 0.5,-0.1 0.5,-1.9 0.5,4.4 0.5,-1.5 0.5,3.7 0.5,-4.2 0.5,-3.7 0.5,1.3 0.5,-1.2 0.5,-0.7 0.5,7.7 0.5,-1.3 0.5,-6 0.5,9.1 0.5,-4.4 0.5,-3.5 0.5,4.2 0.5,-1.2 0.5,-2 0.5,-3.3 0.5,6.1 0.5,0.9 0.5,-8.4 0.5,9.6 0.5,0.3 0.5,-3.1 0.5,1.8 0.5,-1 0.5,-1.6 0.5,1.5 0.5,5.2 0.5,-8.4 0.5,5.1 0.5,-0.2 0.5,-2.8 0.5,0.6 0.5,-3.2 0.5,1.3 0.5,2.2 0.5,0.5 0.5,-4.2 0.5,11.3 0.5,-11.4 0.5,1.5 0.5,-1.7 0.5,-1.1 0.5,4.5 0.5,-5.9 0.5,4.8 0.5,-1.1 0.5,-7.1 0.5,5.8 0.5,-5.6 0.5,9.8 0.5,-9.8 0.5,-2.1 0.5,-3.3 0.5,1.4 0.5,1.8 0.5,-1.7 0.5,-1.1 0.5,1.2 0.5,1.1 0.5,4.6 0.5,-9.8 0.5,3.1 0.5,-1.5 0.5,-1.9 0.5,0.4 0.5,0.7 0.5,4.5 0.5,-2.9 0.5,-1.1 0.5,1.2 0.5,-1.6 0.5,-2.2 0.5,-0.7 0.5,-3.8 0.5,0.3 0.5,-2.4 0.5,-3.5 0.5,-3.3 0.5,2.6 0.5,-3.9 0.5,1 0.5,-4.1 0.5,0.1 0.5,-2.3 0.5,-0.9 0.5,-1.4 0.5,-3.7 0.5,-4.8 0.5,-6 0.5,-3.9 0.5,-3 0.5,-2.7 0.5,-3.1 0.5,-3.4 0.5,-3.3 0.5,-3.2 0.5,-2 0.5,-2 0.5,-1.2 0.5,-2.7 0.5,-2.4 0.5,0.3 0.5,-2.1 0.5,-0.9 0.5,-0.4 0.5,-0.1 0.5,-2.8 0.5,0.9 0.5,1.3 0.5,0.4 0.5,0.8 0.5,1.6 0.5,2.9 0.5,0.1 0.5,2.9 0.5,2.3 0.5,1.7 0.5,4.1 0.5,3.6 0.5,4.2 0.5,3.4 0.5,5.3 0.5,3 0.5,4.8 0.5,4.5 0.5,5.8 0.5,1.8 0.5,1.5 0.5,1.8 0.5,1.9 0.5,4.7 0.5,3.6 0.5,2.1 0.5,5 0.5,3.1 0.5,-0.2 0.5,3 0.5,2.2 0.5,2.7 0.5,1.1 0.5,-0.9 0.5,6.3 0.5,-0.6 0.5,2.7 0.5,1.2 0.5,-1.3 0.5,2.4 0.5,2.1 0.5,1.1 0.5,-1.5 0.5,-0.2 0.5,2.7 0.5,-1.3 0.5,1.6 0.5,-3.2 0.5,6.6 0.5,-2.2 0.5,2 0.5,2 0.5,1.6 0.5,4.8 0.5,-4.1 0.5,-3.9 0.5,4.6 0.5,-1.6 0.5,3.1 0.5,-2.6 0.5,0.3 0.5,0.9 0.5,0 0.5,-2.9 0.5,3.3 0.5,2.1 0.5,3.5 0.5,-3.7 0.5,0 0.5,2.8 0.5,0.1 0.5,3.1 0.5,-2.5 0.5,-1.3 0.5,3.8 0.5,0.7 0.5,-5 0.5,1.9 0.5,-4.6 0.5,3.7 0.5,-1.2 0.5,2 0.5,-0.5 0.5,1.1 0.5,0.4 0.5,1.7 0.5,-0.4 0.5,-1.9 0.5,-1.7 0.5,6.8 0.5,0.7 0.5,-4.7 0.5,2.8 0.5,-5.2 0.5,0.1 0.5,3.5 0.5,4.7 0.5,-6.3 0.5,0.8 0.5,6.4 0.5,-8.8 0.5,6.7 0.5,-0.2 0.5,-1.6 0.5,1.2 0.5,6.3 0.5,-9.3 0.5,2.2 0.5,0.4 0.5,-1 0.5,-1.5 0.5,7.6 0.5,-3.3 0.5,-4.8 0.5,2.8 0.5,3 0.5,0.2 0.5,-4.5 0.5,3.5 0.5,1.1 0.5,0.5 0.5,0.1 0.5,-5.3 0.5,9.3 0.5,-3.9 0.5,4.1 0.5,2.8 0.5,-7.4 0.5,-2.5 0.5,5.3 0.5,-2.4 0.5,-0.5 0.5,-1.3 0.5,6.9 0.5,-5.1 0.5,-2.2 0.5,2.5 0.5,-1.6 0.5,3.3 0.5,-1.2 0.5,-1.5 0.5,4.2 0.5,-2.8 0.5,3.4 0.5,1.5 0.5,-3.8 0.5,-0.6 0.5,2.2 0.5,1.8 0.5,-2 0.5,0.5 0.5,-0.3 0.5,1 0.5,0.9 0.5,-3.1 0.5,0.7 0.5,1.4 0.5,-1.6 0.5,2.1 0.5,1.1 0.5,-1.2 0.5,-1.3 0.5,-0.3 0.5,6.2 0.5,-1.9 0.5,-4.7 0.5,0.9 0.5,6.6 0.5,-0.7 0.5,-3.1 0.5,2.6 0.5,-6.1 0.5,3.8 0.5,2 0.5,-6 0.5,2.8 0.5,3.9 0.5,1.1 0.5,-3.9 0.5,2.4 0.5,3.3 0.5,-4.5 0.5,-2 0.5,3.3 0.5,-0.5 0.5,4.3 0.5,-2.5 0.5,-2 0.5,7.9 0.5,-6.6 0.5,2.5 0.5,0.8 0.5,0.5 0.5,-1.2 0.5,1.3 0.5,-1.3 0.5,-3 0.5,3.1 0.5,0.3 0.5,0.3 0.5,1 0.5,-1.5 0.5,4.9 0.5,0.8 0.5,-8.7 0.5,5.5 0.5,-1.5 0.5,-4.3 0.5,7.4 0.5,-2.3 0.5,0.8 0.5,-0.4 0.5,4.3 0.5,0.5 0.5,-2.1 0.5,1.2 0.5,-1.8 0.5,0.8 0.5,-2 0.5,2 0.5,-1.6 0.5,2.7 0.5,1.2 0.5,-1.1 0.5,2.2 0.5,3.6 0.5,-11.1 0.5,5.1 0.5,-1.3 0.5,0.4 0.5,-2 0.5,3.4 0.5,-0.6 0.5,-0.8 0.5,1 0.5,-0.6 0.5,-4 0.5,8.1 0.5,-3.2 0.5,-1.4 0.5,3.1 0.5,-2.2 0.5,-3.4 0.5,7.2 0.5,-5.9 0.5,3.5 0.5,0.9 0.5,3 0.5,-0.3 0.5,-2.3 0.5,-2.1 0.5,0.9 0.5,3.6 0.5,1.8 0.5,-2.9 0.5,-2.6 0.5,4 0.5,-3.2 0.5,0 0.5,0.4 0.5,2.1 0.5,-0.7 0.5,1.8 0.5,0.8 0.5,-1.7 0.5,-6.6 0.5,1.6 0.5,4.4 0.5,-0.4 0.5,5.3 0.5,-5 0.5,-0.2 0.5,2.6 0.5,0.4 0.5,-2.9 0.5,1.7 0.5,-3.6 0.5,0.5 0.5,5.2 0.5,-6 0.5,5.5 0.5,-0.5 0.5,0.3 0.5,0.5 0.5,-0.7 0.5,-6.2 0.5,2.7 0.5,1.1 0.5,3.6 0.5,-4.7 0.5,1.1 0.5,0.9 0.5,4 0.5,-6.3 0.5,0.3 0.5,4.7 0.5,-6.3 0.5,5.8 0.5,-1.7 0.5,-2.5 0.5,2.8 0.5,-1.3 0.5,2.8 0.5,0.5 0.5,2.7 0.5,-3.4 0.5,0.4 0.5,-1.5 0.5,1.3 0.5,2.6 0.5,-6.8 0.5,6 0.5,-2.7 0.5,1.5 0.5,0.6 0.5,1.3 0.5,-1.3 0.5,-1.4 0.5,1.6 0.5,-0.6 0.5,-0.5 0.5,1 0.5,1.6 0.5,-1.6 0.5,0 0.5,-3.2 0.5,2.7 0.5,-4 0.5,6 0.5,-3.8 0.5,5.2 0.5,3.9 0.5,-7.7 0.5,4 0.5,-2.1 0.5,-2.2 0.5,-0.6 0.5,3.2 0.5,2 0.5,-2.4 0.5,-4.2 0.5,1.1 0.5,1.9 0.5,3.6 0.5,-2.4 0.5,0.1 0.5,2.1 0.5,-3.2 0.5,0.2 0.5,-0.1 0.5,-3.6 0.5,5.1 0.5,-0.1 0.5,1.3 0.5,-4.9 0.5,0.9 0.5,4 0.5,-1.4 0.5,2.4 0.5,-5 0.5,2.4 0.5,-2 0.5,2.3 0.5,-1.8 0.5,2.4 0.5,1.2 0.5,-0.9 0.5,-5.6 0.5,6.3 0.5,-1.1 0.5,-3.4 0.5,0.4 0.5,2 0.5,1.3 0.5,-2.2 0.5,-2.7 0.5,4.4 0.5,-0.3 0.5,5.2 0.5,-8.4 0.5,8.6 0.5,-1.7 0.5,-3.2 0.5,3 0.5,-3.5 0.5,2.1 0.5,-3.9 0.5,1.9 0.5,-2.5 0.5,-1.2 0.5,3 0.5,-0.9 0.5,2.8 0.5,1.6 0.5,-3.2 0.5,0.5 0.5,0.4 0.5,-4.2 0.5,4.4 0.5,-0.6 0.5,-0.1 0.5,-2.3 0.5,-2 0.5,3.9 0.5,1.3 0.5,2.3 0.5,-0.4 0.5,0.7 0.5,-2.4 0.5,1.8 0.5,-3.1 0.5,1.9 0.5,0.7 0.5,4 0.5,-5.5 0.5,-3.4 0.5,6 0.5,-4.9 0.5,1.7 0.5,-0.6 0.5,-1.3 0.5,5 0.5,-1.7 0.5,-2.7 0.5,1.6 0.5,-1.2 0.5,2.4 0.5,-2.2 0.5,-0.9 0.5,0.3 0.5,0.4 0.5,1.6 0.5,-2.6 0.5,1.8 0.5,1.2 0.5,4.2 0.5,-3.3 0.5,-8.5 0.5,5.5 0.5,0.2 0.5,1.6 0.5,2.8 0.5,-1.9 0.5,-6.7 0.5,5.8 0.5,-0.5 0.5,0.7 0.5,2.1 0.5,-5.4 0.5,4.8 0.5,-6.1 0.5,3.8 0.5,0.7 0.5,4.3 0.5,-6.7 0.5,-2.1 0.5,5.2 0.5,-3 0.5,5 0.5,-5.1 0.5,-0.3 0.5,4.6 0.5,-2.5 0.5,2 0.5,-5.4 0.5,6.8 0.5,-4.9 0.5,3.1 0.5,-4 0.5,-1.2 0.5,2.8 0.5,1 0.5,3.1 0.5,-2.7 0.5,0.8 0.5,-0.1 0.5,5.4 0.5,-8.7 0.5,4.6 0.5,-3.1 0.5,1 0.5,-1.8 0.5,3.8 0.5,-5.3 0.5,-0.1 0.5,2.5 0.5,-2 0.5,4.1 0.5,0.6 0.5,-3.7 0.5,3.5 0.5,-3.1 0.5,1.4 0.5,0.2 0.5,4.1 0.5,-4 0.5,-2 0.5,0.1 0.5,4.7 0.5,-6.2 0.5,2.7 0.5,0.3 0.5,-4.5 0.5,4.4 0.5,3.3 0.5,-1.6 0.5,-2.4 0.5,3.6 0.5,-0.3 0.5,3.3 0.5,-5.9 0.5,0.8 0.5,1.1 0.5,-0.4 0.5,0.6 0.5,-0.3 0.5,-1.3 0.5,-1.9 0.5,2.4 0.5,-1.8 0.5,0.8 0.5,1.2 0.5,2.3 0.5,0.8 0.5,-4 0.5,3 0.5,1.1 0.5,-1.8 0.5,-3.4 0.5,-1.1 0.5,6.5 0.5,0.3 0.5,-1.3 0.5,-2.9 0.5,5.5 0.5,-0.4 0.5,-2.7 0.5,-0.3 0.5,-3.7 0.5,5.9 0.5,-5.1 0.5,5.1 0.5,0.1 0.5,-1.3 0.5,3.3 0.5,-4.1 0.5,2 0.5,0.5 0.5,-1.1 0.5,-1.4 0.5,3.6 0.5,-1.6 0.5,-1.3 0.5,0.1 0.5,0.7 0.5,4.7 0.5,-4.7 0.5,-0.6 0.5,-1.8 0.5,-0.3 0.5,-1.4 0.5,4.7 0.5,-0.4 0.5,-2.3 0.5,-0.9 0.5,2.5 0.5,-0.4 0.5,-1.7 0.5,3.6 0.5,-0.3 0.5,-0.4 0.5,1.8 0.5,-3 0.5,4.3 0.5,-5.1 0.5,3.3 0.5,0.3 0.5,-1.9 0.5,1.3 0.5,-3.4 0.5,-0.5 0.5,2.8 0.5,-1.1 0.5,2.8 0.5,-1.2 0.5,1.3 0.5,-0.6 0.5,-0.3 0.5,-0.2 0.5,-1 0.5,-0.2 0.5,5.4 0.5,-8.1 0.5,3.4 0.5,2.5 0.5,-1.2 0.5,2.1 0.5,-1.8 0.5,-3.9 0.5,2 0.5,-2.2 0.5,5 0.5,1 0.5,-4 0.5,2.1 0.5,-2 0.5,-2.2 0.5,2.1 0.5,-2.3 0.5,2.1 0.5,1.7 0.5,1.1 0.5,1.2 0.5,-3.4 0.5,1.2 0.5,0.4 0.5,0.3 0.5,-7.2 0.5,4.4 0.5,3.4 0.5,-4 0.5,2.9 0.5,1.2 0.5,-5.7 0.5,3.6 0.5,1 0.5,-0.5 0.5,-3.2 0.5,4 0.5,-1.9 0.5,3 0.5,-0.8 0.5,-2 0.5,1.5 0.5,-1.7 0.5,0 0.5,-1.8 0.5,2.8 0.5,2.3 0.5,-1.5 0.5,-0.2 0.5,-1.2 0.5,0.2 0.5,2.7 0.5,-4.6 0.5,7.5 0.5,-4.4 0.5,4.7 0.5,-2.1 0.5,-3.2 0.5,2.4 0.5,-1 0.5,0.5 0.5,0.7 0.5,-2.7 0.5,-0.1 0.5,0.4 0.5,-1.9 0.5,2.3 0.5,1.1 0.5,0.1 0.5,-0.1 0.5,-1.2 0.5,2.5 0.5,-5.9 0.5,3.5 0.5,0.2 0.5,2.5 0.5,-0.4 0.5,0.3 0.5,-1.6 0.5,2 0.5,-4 0.5,2.2 0.5,-4.4 0.5,7.9 0.5,-0.2 0.5,-4.5 0.5,-0.5 0.5,-2.5 0.5,1.2 0.5,3.4 0.5,-0.5 0.5,-2.7 0.5,2.1 0.5,-0.3 0.5,2.4 0.5,0.5 0.5,-1.9 0.5,0.8 0.5,-0.2 0.5,-4.3 0.5,4.7 0.5,-0.4 0.5,1.7 0.5,-5.3 0.5,5.4 0.5,-2.9 0.5,1.9 0.5,2 0.5,-5.5 0.5,0.4 0.5,4.8 0.5,-4.4 0.5,0.4 0.5,3.3 0.5,-1.6 0.5,2 0.5,-1 0.5,-0.6 0.5,2.1 0.5,2.5 0.5,-4.7 0.5,3.3 0.5,-0.7 0.5,-2.1 0.5,0.8 0.5,-2.8 0.5,0.6 0.5,1.9 0.5,-0.7 0.5,2.8 0.5,-5.3 0.5,2.1 0.5,-0.7 0.5,1 0.5,2.7 0.5,-4.8 0.5,4.1 0.5,-2.9 0.5,0.6 0.5,2.7 0.5,-2.6 0.5,1.9 0.5,-1.1 0.5,-0.6 0.5,-0.4 0.5,-2.8 0.5,2 0.5,1.9 0.5,0 0.5,-3.4 0.5,5.1 0.5,-0.9 0.5,-3.8 0.5,0.5 0.5,3.2 0.5,-4.6 0.5,2.1 0.5,1.3 0.5,-0.1 0.5,0.1 0.5,1 0.5,-2.4 0.5,0.6 0.5,5.1 0.5,-7 0.5,2 0.5,1.1 0.5,-1.5 0.5,3.7 0.5,-2.3 0.5,1.4 0.5,-6.8 0.5,7.7 0.5,-0.1 0.5,-3.8 0.5,4.1 0.5,-2.1 0.5,1.4 0.5,1.7 0.5,-3.4 0.5,-2.2 0.5,2 0.5,-2.5 0.5,0.9 0.5,0.1 0.5,0.1 0.5,3.7 0.5,-0.6 0.5,-3.5 0.5,4.1 0.5,-5.6 0.5,2 0.5,1.1 0.5,2.6 0.5,-0.9 0.5,-0.6 0.5,1.7 0.5,-1.1 0.5,1.3 0.5,-4.3 0.5,-1.8 0.5,2.5 0.5,2.5 0.5,-1.1 0.5,1.2 0.5,-0.3 0.5,-0.4 0.5,0.6 0.5,-3.1 0.5,3.6 0.5,-4.2 0.5,1.8 0.5,-2.6 0.5,3.8 0.5,-4.1 0.5,5.8 0.5,-5.5 0.5,3.1 0.5,-0.8 0.5,-1.5 0.5,4.1 0.5,-3.3 0.5,3.7 0.5,-5 0.5,0.4 0.5,-2.5 0.5,5 0.5,0.7 0.5,-1.5 0.5,-0.8 0.5,-1.6 0.5,6.4 0.5,-3.2 0.5,-5.2 0.5,3 0.5,-4.6 0.5,8.2 0.5,0.7 0.5,-1.1 0.5,-3 0.5,-1.1 0.5,-1.7 0.5,3.8 0.5,-2.6 0.5,0.7 0.5,-0.5 0.5,0.6 0.5,2.3 0.5,1.5 0.5,-3 0.5,-0.3 0.5,-2.2 0.5,-0.2 0.5,0.3 0.5,3.8 0.5,-1.2 0.5,1.4 0.5,-1 0.5,-1.6 0.5,-1.6 0.5,1.8 0.5,-2.1 0.5,6.8 0.5,-3.3 0.5,-1.2 0.5,4.7 0.5,-4.6 0.5,1.9 0.5,-1.3 0.5,1.1 0.5,-1.3 0.5,1.7 0.5,2 0.5,-5.2 0.5,-1.8 0.5,7.1 0.5,-2.2 0.5,1.5 0.5,-2.2 0.5,3.7 0.5,0.6 0.5,-5.7 0.5,3.7 0.5,-2.4 0.5,-1.8 0.5,2.6 0.5,1.8 0.5,-3.6 0.5,0.2 0.5,5 0.5,-2.2 0.5,0.8 0.5,-2.9 0.5,1.1 0.5,1.6 0.5,0.2 0.5,0 0.5,2.9 0.5,-2.7 0.5,-3.2 0.5,1.3 0.5,1.7 0.5,2.6 0.5,-3.7 0.5,0.6 0.5,0.8 0.5,-1.3 0.5,-0.1 0.5,1.1 0.5,2.5 0.5,-1 0.5,-1.5 0.5,1.4 0.5,-3.2 0.5,4.4 0.5,-0.4 0.5,-0.9 0.5,-3.7 0.5,7.1 0.5,-9.5 0.5,3.7 0.5,0.2 0.5,3.2 0.5,-4.2 0.5,3.3 0.5,-0.7 0.5,-0.2 0.5,2.2 0.5,1.1 0.5,-1.9 0.5,-1.3 0.5,-3.8 0.5,7.2 0.5,-3.4 0.5,-2.9 0.5,3.8 0.5,2.5 0.5,-3 0.5,-1.9 0.5,6.6 0.5,-3.2 0.5,-0.5 0.5,1.3 0.5,-6 0.5,4 0.5,-0.2 0.5,4.7 0.5,-5.4 0.5,0.1 0.5,-1.6 0.5,1.1 0.5,1.2 0.5,0.9 0.5,-0.9 0.5,4.3 0.5,-2.9 0.5,0.3 0.5,1.4 0.5,-1.4 0.5,-2.2 0.5,-1.9 0.5,3.7 0.5,-2.3 0.5,4.1 0.5,-3.9 0.5,-2.8 0.5,4.3 0.5,2 0.5,-2.4 0.5,0.8 0.5,-0.1 0.5,3 0.5,-2.6 0.5,-0.7 0.5,-1 0.5,-2 0.5,5.8 0.5,-0.4 0.5,-4 0.5,3 0.5,-0.5 0.5,-1.4 0.5,0.2 0.5,2 0.5,-3.6 0.5,1.3 0.5,0.8 0.5,0.2 0.5,-0.4 0.5,0.9 0.5,0.6 0.5,-2.7 0.5,1.9 0.5,-1.2 0.5,3.9 0.5,-5.5 0.5,2.3 0.5,1.8 0.5,-1.9 0.5,0 0.5,-0.4 0.5,1.6 0.5,-2.7 0.5,2 0.5,0 0.5,-2.5 0.5,3.3 0.5,-1.4 0.5,1.5 0.5,1.1 0.5,-1 0.5,-2.8 0.5,2.8 0.5,-3.5 0.5,1.6 0.5,4.5 0.5,-3.1 0.5,3 0.5,-3.2 0.5,0.3 0.5,-2 0.5,3.8 0.5,-2.1 0.5,1.6 0.5,-0.3 0.5,0.2 0.5,-0.4 0.5,-0.7 0.5,0.1 0.5,-1.2 0.5,-2.7 0.5,4.9 0.5,3 0.5,-1.8 0.5,2.3 0.5,-3.4 0.5,-2.6 0.5,-0.1 0.5,3.3 0.5,-0.7 0.5,-1 0.5,1.7 0.5,-2.9 0.5,2.6 0.5,-1.5 0.5,0.8 0.5,2 0.5,-2.5 0.5,2.9 0.5,-0.1 0.5,-3.8 0.5,5.7 0.5,-6.6 0.5,2.1 0.5,1.6 0.5,-5.6 0.5,6.2 0.5,0.2 0.5,-2.3 0.5,0.7 0.5,-0.1 0.5,-0.8 0.5,2.4 0.5,-2.6 0.5,0.6 0.5,0.7 0.5,0.9 0.5,0.5 0.5,-4.7 0.5,-1 0.5,3.5 0.5,0.2 0.5,-1.9 0.5,2.5 0.5,0.6 0.5,-0.4 0.5,2.3 0.5,-4.9 0.5,2 0.5,3.5 0.5,-2.3 0.5,-3.3 0.5,2.5 0.5,1.8 0.5,1.6 0.5,-2.5 0.5,0.9 0.5,-4.2 0.5,1.6 0.5,2.7 0.5,-3.9 0.5,1.6 0.5,-3.2 0.5,6.1 0.5,-3 0.5,1.3 0.5,-3.7 0.5,0.3 0.5,5.8 0.5,-4 0.5,-0.3 0.5,1.9 0.5,0.1 0.5,-4.5 0.5,1.8 0.5,1.9 0.5,-0.1 0.5,0.7 0.5,-1.4 0.5,0.2 0.5,1 0.5,-1.7 0.5,-0.2 0.5,0.5 0.5,1.1 0.5,-0.3 0.5,-0.6 0.5,0.5 0.5,0.3 0.5,0.7 0.5,0.1 0.5,-2.9 0.5,4.1 0.5,-4.7 0.5,3.9 0.5,-2.2 0.5,2.3 0.5,0.9 0.5,-5.3 0.5,4.5 0.5,-0.6 0.5,-1.3 0.5,1.6 0.5,-1.6 0.5,1.1 0.5,-2 0.5,3.3 0.5,-0.4 0.5,0.3 0.5,-2.4 0.5,4.4 0.5,0.3 0.5,-3.7 0.5,-0.5 0.5,0 0.5,2 0.5,0.6 0.5,-3.1 0.5,-2.3 0.5,4.4 0.5,-0.8 0.5,0.4 0.5,0.6 0.5,-2.9 0.5,2.2 0.5,-0.7 0.5,1.2 0.5,1.6 0.5,-2.2 0.5,-1.5 0.5,3.8 0.5,-1 0.5,-1.6 0.5,-2.8 0.5,1.7 0.5,1.8 0.5,0.7 0.5,-1.9 0.5,1.8 0.5,-1.9 0.5,0.4 0.5,1.7 0.5,-1.4 0.5,0.7 0.5,1.3 0.5,0.5 0.5,-3 0.5,0.6 0.5,-1.8 0.5,0 0.5,2.8 0.5,-1.4 0.5,-2.3 0.5,4.2 0.5,-2.4 0.5,1 0.5,1.3 0.5,-0.1 0.5,-0.7 0.5,-3.4 0.5,4.5 0.5,-2 0.5,-1.4 0.5,-1.4 0.5,6.2 0.5,-2 0.5,-0.1 0.5,0.9 0.5,-1.2 0.5,-2.4 0.5,3.8 0.5,0.6 0.5,-0.8 0.5,1.7 0.5,0.7 0.5,-4.7 0.5,0.7 0.5,2.3 0.5,-1.2 0.5,0.1 0.5,1.2 0.5,-0.3 0.5,-2 0.5,1 0.5,-1.4 0.5,0.9 0.5,-1.6 0.5,-1.4 0.5,2.5 0.5,-0.1 0.5,2.6 0.5,1.2 0.5,-2.7 0.5,0.8 0.5,-1.9 0.5,-0.4 0.5,1.1 0.5,0 0.5,1 0.5,-0.3 0.5,2.7 0.5,-3.2 0.5,-2.4 0.5,3.1 0.5,-1.4 0.5,1.5 0.5,1.6 0.5,-3 0.5,1 0.5,1.1 0.5,-2.5 0.5,2 0.5,0.6 0.5,0.4 0.5,0.6 0.5,-1 0.5,-0.2 0.5,-3 0.5,-2.2 0.5,2.9 0.5,4.1 0.5,-2.2 0.5,-4 0.5,3.2 0.5,1.3 0.5,-3.7 0.5,4.1 0.5,-2.9 0.5,3.7 0.5,-1.7 0.5,5.3 0.5,-7.5 0.5,2.7 0.5,-2.9 0.5,4.4 0.5,-1.7 0.5,1.4 0.5,-1.4 0.5,-2.1 0.5,0.9 0.5,-1 0.5,0.4 0.5,2 0.5,1.6 0.5,-0.4 0.5,-0.5 0.5,-1.8 0.5,1.8 0.5,-2.3 0.5,1.8 0.5,1.1 0.5,-1.7 0.5,-0.5 0.5,0.1 0.5,1.8 0.5,-1.6 0.5,-1.8 0.5,1.7 0.5,-1.1 0.5,4.3 0.5,-2.4 0.5,-2.5 0.5,2.9 0.5,0.8 0.5,-0.6 0.5,-1.2 0.5,0.9 0.5,0.2 0.5,1.2 0.5,-1 0.5,3.1 0.5,-4.1 0.5,2.9 0.5,-2.5 0.5,-2.8 0.5,0.9 0.5,-1.1 0.5,0.2 0.5,4.9 0.5,-3.1 0.5,2.1 0.5,-2.5 0.5,1.5 0.5,-1.7 0.5,3.2 0.5,-1.8 0.5,-0.4 0.5,0.5 0.5,3.9 0.5,-2.8 0.5,0.6 0.5,-3.4 0.5,1 0.5,1.6 0.5,-3.6 0.5,5.3 0.5,-1.7 0.5,-0.5 0.5,-0.3 0.5,0 0.5,-0.5 0.5,3.2 0.5,-1.2 0.5,0.9 0.5,-2.5 0.5,-0.9 0.5,3.7 0.5,-4.3 0.5,1.1 0.5,2.1 0.5,0.7 0.5,-4 0.5,1.8 0.5,0.5 0.5,-0.3 0.5,-1.2 0.5,2.5 0.5,-1.9 0.5,0.5 0.5,-3.3 0.5,3.5 0.5,-3 0.5,4.4 0.5,-0.4 0.5,-1.6 0.5,1.1 0.5,-0.1 0.5,-0.4 0.5,0.9 0.5,-0.8 0.5,-0.6 0.5,-0.5 0.5,4 0.5,-2.4 0.5,-0.3 0.5,1.2 0.5,-1.8 0.5,0 0.5,1.8 0.5,0.5 0.5,-0.5 0.5,-3.5 0.5,2.5 0.5,-0.1 0.5,0.8 0.5,-2.2 0.5,-0.2 0.5,1.5 0.5,-1.3 0.5,-0.2 0.5,1.6 0.5,1.6 0.5,-1.3 0.5,1.6 0.5,-3.4 0.5,2.8 0.5,-1.2 0.5,-1.4 0.5,0.8 0.5,-0.7 0.5,1 0.5,-0.8 0.5,3.2 0.5,-2.6 0.5,-1.7 0.5,2 0.5,1 0.5,-1.2 0.5,1.9 0.5,-2.8 0.5,0.1 0.5,4 0.5,-2.6 0.5,0.9 0.5,-0.1 0.5,0.1 0.5,-0.8 0.5,-0.4 0.5,2.1 0.5,-2.5 0.5,0.9 0.5,0.9 0.5,-1.7 0.5,-1.7 0.5,3.1 0.5,1 0.5,-1.3 0.5,-3 0.5,3.6 0.5,2.1 0.5,-5.5 0.5,-1.8 0.5,3.9 0.5,0.5 0.5,1.1 0.5,0.1 0.5,-1.2 0.5,0.7 0.5,-0.3 0.5,-0.3 0.5,-0.3 0.5,-0.1 0.5,1.3 0.5,-0.4 0.5,-1.3 0.5,2.3 0.5,-2.8 0.5,0.8 0.5,0.6 0.5,-3.2 0.5,2.4 0.5,1.9 0.5,0 0.5,-3.2 0.5,0.6 0.5,-0.4 0.5,1.4 0.5,0.2 0.5,-2.3 0.5,2.9 0.5,-0.3 0.5,-0.3 0.5,-0.9 0.5,0.8 0.5,-2.5 0.5,3.1 0.5,0 0.5,-0.5 0.5,-1.6 0.5,3.8 0.5,-0.2 0.5,-4.6 0.5,3.5 0.5,-0.4 0.5,-4.2 0.5,4.7 0.5,0.3 0.5,0.1 0.5,-0.9 0.5,-1.2 0.5,0.2 0.5,1.6 0.5,1 0.5,-2.5 0.5,0.3 0.5,1.5 0.5,-4.3 0.5,3.9 0.5,-1 0.5,-3 0.5,4.6 0.5,-2.6 0.5,2.6 0.5,0.9 0.5,-4 0.5,0.1 0.5,1.8 0.5,-2.6 0.5,3.8 0.5,-0.8 0.5,1.2 0.5,-4.3 0.5,3.1 0.5,0.4 0.5,-3.4 0.5,4.1 0.5,-3.4 0.5,2.3 0.5,-2.2 0.5,3.2 0.5,1.4 0.5,-2.5 0.5,0 0.5,1.9 0.5,-2.6 0.5,0.7 0.5,1.2 0.5,-0.6 0.5,1.8 0.5,-0.6 0.5,1.2 0.5,-2.9 0.5,1.7 0.5,-2.9 0.5,2.6 0.5,1.3 0.5,0.9 0.5,-5.4 0.5,1.7 0.5,1.3 0.5,-2.4 0.5,2.2 0.5,0 0.5,-1.5 0.5,-0.1 0.5,-0.5 0.5,1.8 0.5,1.5 0.5,-1.5 0.5,3.8 0.5,-6.4 0.5,1.4 0.5,1.9 0.5,-2.7 0.5,2.2 0.5,0.7 0.5,-0.9 0.5,-0.6 0.5,1.8 0.5,-0.8 0.5,0.5 0.5,-0.2 0.5,-1.8 0.5,-0.7 0.5,1.1 0.5,0.9 0.5,-0.5 0.5,1.7 0.5,-1 0.5,1.1 0.5,-1.2 0.5,-1.2 0.5,2.3 0.5,-0.4 0.5,-2 0.5,0.7 0.5,4.8 0.5,-9.2 0.5,6.8 0.5,-1.6 0.5,-0.1 0.5,-0.3 0.5,-0.3 0.5,4.3 0.5,-4.1 0.5,0.2 0.5,1.7 0.5,-0.6 0.5,-0.8 0.5,-0.1 0.5,-1.5 0.5,3.6 0.5,-3.1 0.5,-2 0.5,5.2 0.5,-0.4 0.5,-0.6 0.5,-1.2 0.5,2.6 0.5,-3.3 0.5,-1.7 0.5,3.6 0.5,1 0.5,-0.3 0.5,2.2 0.5,-1.8 0.5,-1.5 0.5,0.1 0.5,1.6 0.5,-1.4 0.5,0 0.5,-2.4 0.5,2.2 0.5,-1.5 0.5,2.3 0.5,-0.1 0.5,0.9 0.5,1.6 0.5,-2.9 0.5,2.4 0.5,-3.7 0.5,1.9 0.5,1.2 0.5,1.5 0.5,-4.5 0.5,1.2 0.5,0.6 0.5,-0.3 0.5,-1.3 0.5,-1 0.5,0.6 0.5,1.7 0.5,-1.9 0.5,4.7 0.5,-0.9 0.5,-4.6 0.5,2.1 0.5,2.7 0.5,0.2 0.5,-0.5 0.5,-3.8 0.5,1.6 0.5,2.4 0.5,-1.7 0.5,-0.8 0.5,1.4 0.5,0.7 0.5,-1.3 0.5,0.2 0.5,1.2 0.5,-2.4 0.5,-0.5 0.5,2.5 0.5,-2.9 0.5,2.5 0.5,-1.9 0.5,2.4 0.5,-3 0.5,3.4 0.5,-1.3 0.5,-0.8 0.5,-0.8 0.5,1 0.5,-1.1 0.5,-0.4 0.5,3.3 0.5,-0.7 0.5,0.9 0.5,-3.8 0.5,-0.8 0.5,0.5 0.5,3.3 0.5,0.2 0.5,-3.9 0.5,4.2 0.5,-2.1 0.5,-1.1 0.5,1.6 0.5,0.9 0.5,-1.1 0.5,0 0.5,-0.9 0.5,-0.9 0.5,1.6 0.5,-1.9 0.5,3.3 0.5,-2.1 0.5,3.1 0.5,-4.2 0.5,4.3 0.5,-3.3 0.5,0 0.5,1.7 0.5,0.9 0.5,-1.4 0.5,-0.4 0.5,3.4 0.5,-2.2 0.5,-2.5 0.5,1.4 0.5,2.9 0.5,-2 0.5,0.7 0.5,1.7 0.5,-3.8 0.5,1.4 0.5,-1.5 0.5,1 0.5,0.8 0.5,-2.7 0.5,2.1 0.5,0 0.5,1.4 0.5,-2.4 0.5,-1 0.5,2.4 0.5,-2.2 0.5,1.9 0.5,0.6 0.5,-2.1 0.5,1.1 0.5,-1.3 0.5,-2.6 0.5,2 0.5,-0.9 0.5,3.1 0.5,-1.5 0.5,1.3 0.5,0.2 0.5,1.6 0.5,-2 0.5,-0.1 0.5,1.3 0.5,1.6 0.5,-2.4 0.5,0.7 0.5,-0.8 0.5,-0.7 0.5,-1.2 0.5,2.1 0.5,-0.2 0.5,0 0.5,3.3 0.5,-3.3 0.5,0.9 0.5,-0.9 0.5,2.2 0.5,-2.1 0.5,3.1 0.5,-3 0.5,1.5 0.5,0.4 0.5,-1.8 0.5,1.6 0.5,-1.1 0.5,-1.1 0.5,0.1 0.5,1.5 0.5,2.1 0.5,-3.3 0.5,1.5 0.5,-1.9 0.5,1.6 0.5,-2.2 0.5,0.7 0.5,1.2 0.5,-1.1 0.5,0.7 0.5,1.9 0.5,-1.6 0.5,-0.9 0.5,-0.7 0.5,1 0.5,2.4 0.5,-1.7 0.5,-0.1 0.5,1.3 0.5,0.2 0.5,0.2 0.5,-1.9 0.5,-0.8 0.5,-1 0.5,1.4 0.5,0.4 0.5,1.6 0.5,-0.6 0.5,-1.2 0.5,2.1 0.5,-3 0.5,0.3 0.5,-0.2 0.5,0.1 0.5,1.2 0.5,-0.8 0.5,0.1 0.5,3 0.5,-3.9 0.5,0.6 0.5,1.1 0.5,1 0.5,0 0.5,-1 0.5,-0.1 0.5,0.1" fill="none" stroke="#747474" stroke-width="5.5" stroke-linejoin="round" stroke-linecap="round"/>
<path d="M213.0,938.0l0.5,-0.6 0.5,-0.3 0.5,-0.5 0.5,0.4 0.5,0.3 0.5,-0.1 0.5,-0.3 0.5,0.6 0.5,0.1 0.5,-0.3 0.5,0.2 0.5,-0.2 0.5,0.7 0.5,-0.8 0.5,-0.2 0.5,0.6 0.5,-0.2 0.5,-1 0.5,0.6 0.5,0.5 0.5,-0.3 0.5,0.2 0.5,0.5 0.5,-0.4 0.5,-0.2 0.5,0.3 0.5,-0.3 0.5,0.2 0.5,0.2 0.5,-0.8 0.5,0.2 0.5,-0.4 0.5,1 0.5,-1 0.5,0.9 0.5,0.4 0.5,-0.4 0.5,0.4 0.5,-0.6 0.5,0.7 0.5,-0.3 0.5,-0.2 0.5,-0.4 0.5,0.8 0.5,-0.7 0.5,0.3 0.5,-0.5 0.5,0.4 0.5,0.3 0.5,-0.4 0.5,0.1 0.5,-0.2 0.5,0.2 0.5,0.2 0.5,0.4 0.5,-1.2 0.5,0.5 0.5,-0.6 0.5,1.2 0.5,-0.7 0.5,0.4 0.5,0.7 0.5,-0.4 0.5,0.4 0.5,-0.1 0.5,-0.5 0.5,0.6 0.5,-0.6 0.5,0.3 0.5,-0.5 0.5,1.2 0.5,-1 0.5,-0.3 0.5,0.8 0.5,-0.2 0.5,0 0.5,-0.2 0.5,-0.1 0.5,0 0.5,0.6 0.5,-0.3 0.5,0.3 0.5,-0.9 0.5,0.5 0.5,0.5 0.5,0.1 0.5,0.2 0.5,-0.5 0.5,-0.2 0.5,0.6 0.5,-0.3 0.5,0 0.5,-0.2 0.5,0.2 0.5,-0.2 0.5,0.1 0.5,0 0.5,0.3 0.5,0 0.5,0.5 0.5,-0.4 0.5,-0.7 0.5,0 0.5,0.6 0.5,0.1 0.5,0.1 0.5,-0.1 0.5,0 0.5,-0.2 0.5,-0.5 0.5,0.4 0.5,0.9 0.5,-0.4 0.5,-0.4 0.5,0.2 0.5,0.1 0.5,0.2 0.5,0.2 0.5,-0.6 0.5,0.4 0.5,0.6 0.5,-0.9 0.5,0.3 0.5,0 0.5,0.3 0.5,0.6 0.5,-0.5 0.5,0 0.5,0.4 0.5,-0.6 0.5,-0.2 0.5,0.6 0.5,0.1 0.5,-0.4 0.5,0.2 0.5,0.1 0.5,-0.1 0.5,0.1 0.5,-0.3 0.5,0.1 0.5,-0.6 0.5,1.1 0.5,0.1 0.5,-0.7 0.5,-0.3 0.5,1.2 0.5,0 0.5,-0.3 0.5,-1.1 0.5,0.8 0.5,-0.5 0.5,0.3 0.5,0 0.5,0.1 0.5,0.7 0.5,-0.9 0.5,0.4 0.5,0.1 0.5,-0.2 0.5,0 0.5,-0.3 0.5,0.3 0.5,-0.2 0.5,0.3 0.5,0.4 0.5,0 0.5,-0.5 0.5,0 0.5,0.5 0.5,0.3 0.5,-0.9 0.5,0 0.5,0.9 0.5,-0.5 0.5,0.3 0.5,0 0.5,0.6 0.5,-1.1 0.5,0.2 0.5,0.2 0.5,-0.3 0.5,-0.7 0.5,1.5 0.5,-0.8 0.5,0.5 0.5,-0.6 0.5,0.5 0.5,-0.3 0.5,0.4 0.5,-0.3 0.5,0.5 0.5,0.1 0.5,0.1 0.5,-0.5 0.5,0.1 0.5,0 0.5,-0.2 0.5,-0.2 0.5,0.4 0.5,-0.5 0.5,1 0.5,-0.7 0.5,0.7 0.5,-0.2 0.5,0 0.5,-0.5 0.5,0.4 0.5,-0.8 0.5,1.1 0.5,-0.2 0.5,0.1 0.5,-0.3 0.5,0.5 0.5,-0.4 0.5,0.4 0.5,-0.8 0.5,0.1 0.5,0.4 0.5,-0.4 0.5,-0.2 0.5,0 0.5,0.8 0.5,-0.5 0.5,0.5 0.5,-0.2 0.5,-0.2 0.5,0 0.5,0.6 0.5,-0.4 0.5,0.3 0.5,0 0.5,-0.5 0.5,0.2 0.5,0.9 0.5,-0.9 0.5,0.1 0.5,-0.5 0.5,-0.1 0.5,0.6 0.5,0.2 0.5,-0.8 0.5,0.7 0.5,-0.6 0.5,0.4 0.5,0.3 0.5,0.3 0.5,-0.3 0.5,0.2 0.5,-0.9 0.5,0.5 0.5,0 0.5,0.1 0.5,-0.1 0.5,0 0.5,0 0.5,0 0.5,-0.2 0.5,0.1 0.5,-0.4 0.5,0.4 0.5,0 0.5,-0.3 0.5,0.9 0.5,-0.5 0.5,-0.4 0.5,0.3 0.5,0 0.5,0.4 0.5,-0.4 0.5,0.1 0.5,-0.6 0.5,0.4 0.5,0.2 0.5,-0.1 0.5,-0.2 0.5,0.1 0.5,0.6 0.5,-0.5 0.5,-0.3 0.5,1 0.5,-1.4 0.5,0.4 0.5,0.2 0.5,0.4 0.5,-0.2 0.5,0.1 0.5,-0.4 0.5,0.1 0.5,1 0.5,-1.6 0.5,0.9 0.3,0.2 0.2,0 0.2,-0.6 0.3,0 0.3,0.7 0.2,-0.9 0.2,0.8 0.3,-0.5 0.3,0.4 0.2,-0.1 0.2,0 0.3,0 0.3,-0.7 0.2,0.3 0.2,-0.2 0.3,-0.1 0.3,0.1 0.2,-0.9 0.2,-0.7 0.3,-0.6 0.3,-0.6 0.2,-0.5 0.2,-1.7 0.3,-0.5 0.3,-1.7 0.2,-1.6 0.2,-1.9 0.3,-1 0.3,-1.2 0.2,-2.2 0.2,0.1 0.3,-0.3 0.3,-0.4 0.2,0.7 0.2,1.7 0.3,0.8 0.3,0.8 0.2,1.8 0.2,1.5 0.3,1.4 0.3,0.6 0.2,2.3 0.2,0.6 0.3,1.1 0.3,0.7 0.2,0.9 0.2,0.1 0.3,0.1 0.3,0.8 0.2,0.5 0.2,-0.5 0.3,0.7 0.3,-0.3 0.2,-0.3 0.2,0.8 0.3,-0.8 0.3,0.7 0.2,-0.5 0.2,0.3 0.3,-0.6 0.3,0.2 0.2,0.7 0.2,-0.3 0.3,-0.1 0.5,0.2 0.5,-0.6 0.5,0.2 0.5,0.2 0.5,0 0.5,0.4 0.5,-0.3 0.5,-0.5 0.5,-0.2 0.5,1 0.5,0.1 0.5,-0.2 0.5,0.2 0.5,0 0.5,0 0.5,-0.2 0.5,0.4 0.5,-0.7 0.5,-0.3 0.5,0.8 0.5,-0.5 0.5,0.4 0.5,0.1 0.5,-0.7 0.5,0.5 0.5,0.2 0.5,-0.2 0.5,0.1 0.5,0.1 0.5,-0.3 0.5,0.2 0.5,-0.6 0.5,0.7 0.5,-0.7 0.5,-0.4 0.5,1.7 0.5,-0.6 0.5,0.4 0.5,-0.4 0.5,-0.5 0.5,-0.1 0.5,0.5 0.5,0.2 0.5,-0.3 0.5,0 0.5,0.4 0.5,-0.1 0.5,-0.4 0.5,-0.1 0.5,0.9 0.5,-0.5 0.5,-0.2 0.5,0.1 0.5,0.1 0.5,0.1 0.5,-0.1 0.5,-0.3 0.5,0.3 0.5,0.2 0.5,0.4 0.5,-0.8 0.5,-0.1 0.5,1 0.5,-1.1 0.5,0.3 0.5,0.1 0.5,0.1 0.5,-0.6 0.5,0.9 0.5,-0.9 0.5,0.5 0.5,0.1 0.5,0 0.5,-0.1 0.5,-1.1 0.5,0.5 0.5,0.8 0.5,-0.3 0.5,0.5 0.5,-0.1 0.5,-0.2 0.5,-0.4 0.5,0 0.5,-0.1 0.5,0.1 0.5,-0.1 0.5,1 0.5,0 0.5,0.2 0.5,-1.4 0.5,0.5 0.5,-0.1 0.5,0.1 0.5,0.6 0.5,-1.1 0.5,0.4 0.5,0.2 0.5,-0.3 0.5,0.5 0.5,0.3 0.5,-0.2 0.5,-0.2 0.5,0.1 0.5,-0.5 0.5,0.5 0.5,-0.4 0.5,0.3 0.5,-0.1 0.5,0.5 0.5,-1 0.5,0.5 0.5,0.1 0.5,-0.3 0.5,0.5 0.5,-0.1 0.5,-0.1 0.5,0.2 0.5,-0.5 0.5,0.6 0.5,-0.7 0.5,-0.1 0.5,-0.2 0.5,0.8 0.5,-0.3 0.5,0.4 0.5,-0.3 0.5,0.1 0.5,-0.5 0.5,0 0.5,0.6 0.5,0 0.5,0.4 0.5,-1 0.5,0.7 0.5,-0.1 0.5,0.1 0.5,-0.5 0.5,-0.3 0.5,0.3 0.5,0.8 0.5,-0.9 0.5,0.5 0.5,-0.4 0.5,0.2 0.5,0.1 0.5,0.5 0.5,0.3 0.5,-0.4 0.5,-0.4 0.5,0 0.5,0.1 0.5,-0.2 0.5,0.3 0.5,-0.4 0.5,-0.3 0.5,1 0.5,-0.6 0.5,0.5 0.5,-0.6 0.5,-0.1 0.5,0.5 0.5,0.2 0.5,-0.3 0.5,-0.4 0.5,0.4 0.5,-0.5 0.5,0.2 0.5,-0.1 0.5,0.6 0.5,-0.1 0.5,-0.4 0.5,0.1 0.5,-0.7 0.5,0.4 0.5,0.6 0.5,-0.2 0.5,-0.5 0.5,0.1 0.5,-0.5 0.5,1 0.5,-0.2 0.5,-0.4 0.5,0.5 0.5,0.3 0.5,-0.6 0.5,0 0.5,0.6 0.5,-0.4 0.5,-0.4 0.5,0.5 0.5,0 0.5,-0.9 0.5,0.5 0.5,0.4 0.5,-0.1 0.5,0.4 0.5,-0.3 0.5,-0.2 0.5,0 0.5,-0.3 0.5,-0.2 0.5,1 0.5,-0.8 0.5,0.6 0.5,-0.7 0.5,0.5 0.5,0.1 0.5,0 0.5,-0.2 0.5,0.3 0.5,-0.8 0.5,0.9 0.5,0 0.5,-0.6 0.5,0.2 0.5,0 0.5,-0.3 0.5,0.7 0.5,0 0.5,-0.3 0.3,0 0.2,-0.3 0.2,0.6 0.3,-0.6 0.3,-0.1 0.2,0.5 0.2,-0.6 0.3,0.4 0.3,0.2 0.2,-0.4 0.2,0 0.3,0.2 0.3,-0.2 0.2,-1 0.2,-0.2 0.3,0.6 0.3,-0.8 0.2,-1.5 0.2,-0.5 0.3,-0.5 0.3,-1.5 0.2,-0.8 0.2,-1.6 0.3,-1.6 0.3,-2.3 0.2,-1.2 0.2,-1.4 0.3,-2.6 0.3,-0.7 0.2,-1.2 0.2,-0.6 0.3,0 0.3,0.4 0.2,1.4 0.2,2.2 0.3,1.9 0.3,1.9 0.2,1.7 0.2,1.7 0.3,1.1 0.3,1.2 0.2,1.7 0.2,1.1 0.3,0.7 0.3,0.1 0.2,0.9 0.2,0 0.3,0.9 0.3,-0.2 0.2,0.4 0.2,0.3 0.3,0 0.3,0.5 0.2,-0.8 0.2,-0.4 0.3,1.1 0.3,0.2 0.2,0 0.2,-0.4 0.3,0.1 0.3,-0.1 0.2,-0.5 0.2,0.3 0.3,0.4 0.5,0.5 0.5,-0.8 0.5,-0.1 0.5,-0.3 0.5,1.1 0.5,-0.4 0.5,0.1 0.5,-0.6 0.5,0.4 0.5,-0.1 0.5,0.8 0.5,-1.2 0.5,0.6 0.5,-0.1 0.5,0.1 0.5,0.1 0.5,-0.5 0.5,0.1 0.5,0.1 0.5,0.1 0.5,-0.6 0.5,0.3 0.5,0.3 0.5,0.2 0.5,0.2 0.5,0.1 0.5,-0.7 0.5,0.5 0.5,0 0.5,-0.1 0.5,-0.1 0.5,0.1 0.5,-0.1 0.5,0.1 0.5,-0.1 0.5,-0.4 0.5,0.2 0.5,-0.3 0.5,-0.2 0.5,0.5 0.5,-0.2 0.5,0.4 0.5,-0.5 0.5,0.1 0.5,0.5 0.5,0.5 0.5,-0.9 0.5,0.2 0.5,0.3 0.5,-0.5 0.5,0 0.5,-0.1 0.5,0.2 0.5,0.3 0.5,-0.7 0.5,0.4 0.5,0.1 0.5,-0.2 0.5,-0.6 0.5,0.3 0.5,0.8 0.5,-0.7 0.5,0.1 0.5,0.2 0.5,-0.2 0.5,0.2 0.5,0.2 0.5,-0.2 0.5,-0.9 0.5,0.2 0.3,0.1 0.2,0.4 0.2,-0.6 0.3,-0.2 0.3,0.4 0.2,0.3 0.2,-0.4 0.3,-0.8 0.3,0.3 0.2,0 0.2,0.6 0.3,-0.5 0.3,-0.3 0.2,-0.2 0.2,-1.1 0.3,-0.5 0.3,-1.2 0.2,-2.4 0.2,-2.5 0.3,-3.9 0.3,-6.4 0.2,-7.2 0.2,-10.2 0.3,-12.7 0.3,-16 0.2,-17.2 0.2,-18.6 0.3,-20 0.3,-19.6 0.2,-16.3 0.2,-11.4 0.3,-4.9 0.3,4.5 0.2,12.6 0.2,15.8 0.3,19 0.3,19.4 0.2,19.2 0.2,18.3 0.3,14.8 0.3,12.4 0.2,10.3 0.2,8.2 0.3,6 0.3,3.6 0.2,3.4 0.2,1.4 0.3,1.6 0.3,0.8 0.2,0.6 0.2,0 0.3,0.3 0.3,0.4 0.2,-0.5 0.2,0.6 0.3,0.3 0.3,0.2 0.2,-0.3 0.2,0 0.3,0.2 0.3,-0.3 0.2,0.3 0.2,0.2 0.3,0 0.5,-0.1 0.5,0.4 0.5,-0.1 0.5,-0.1 0.5,0.4 0.5,0 0.5,-0.5 0.5,0.2 0.5,-0.2 0.5,0.3 0.5,-0.3 0.5,0.5 0.5,-0.2 0.5,0 0.5,0.3 0.5,-0.1 0.5,-0.2 0.5,1 0.5,-0.8 0.5,-0.1 0.5,0.1 0.5,0.4 0.5,-0.9 0.5,0.4 0.5,0.1 0.5,-0.3 0.5,0 0.5,0.3 0.5,0.3 0.5,-0.6 0.5,0.8 0.5,-0.4 0.5,-0.1 0.5,0 0.5,-0.3 0.5,0.4 0.5,0.2 0.5,-0.6 0.5,0.5 0.5,0 0.5,0.3 0.5,-1 0.5,-0.2 0.5,0.3 0.5,-0.3 0.5,1 0.5,-0.2 0.5,0.4 0.5,-0.2 0.5,-0.2 0.5,0 0.5,-0.5 0.5,0.7 0.5,-0.2 0.5,-0.4 0.5,0.3 0.5,0.1 0.5,-0.6 0.5,0.3 0.5,-0.5 0.5,0.2 0.5,0.3 0.3,-0.3 0.2,0.1 0.2,0.7 0.3,-0.9 0.3,0.6 0.2,-0.1 0.2,0.3 0.3,-0.4 0.3,-0.3 0.2,0.3 0.2,-0.3 0.3,0.3 0.3,-0.5 0.2,0.5 0.2,-1 0.3,-0.3 0.3,-1 0.2,-0.6 0.2,-1.4 0.3,-1.6 0.3,-2.1 0.2,-3.4 0.2,-3.7 0.3,-3.6 0.3,-5.3 0.2,-5.4 0.2,-4.8 0.3,-5.5 0.3,-6.1 0.2,-3.2 0.2,-2 0.3,-0.2 0.3,1.5 0.2,4.4 0.2,4 0.3,5.5 0.3,5.6 0.2,5.3 0.2,5.2 0.3,4.4 0.3,3.4 0.2,3.6 0.2,1.7 0.3,2 0.3,2 0.2,0.4 0.2,1.1 0.3,-0.1 0.3,0.4 0.2,0.2 0.2,0.3 0.3,-0.1 0.3,0.2 0.2,0.3 0.2,0.2 0.3,-0.3 0.3,0.2 0.2,0.1 0.2,-0.7 0.3,-0.1 0.3,1.1 0.2,-0.1 0.2,-0.4 0.3,0.1 0.5,-0.6 0.5,0 0.5,0.3 0.5,0.9 0.5,-0.7 0.5,-0.3 0.5,0.5 0.5,-0.3 0.5,0.2 0.5,0 0.5,0 0.5,0.3 0.5,0.2 0.5,0.1 0.5,-0.7 0.5,-0.1 0.5,0 0.5,0.8 0.5,-0.3 0.5,-0.4 0.5,-0.4 0.5,0.6 0.5,-0.2 0.5,0.1 0.5,0.1 0.5,0 0.5,0.4 0.5,-0.4 0.5,-0.7 0.5,1.2 0.5,-1.4 0.5,0.7 0.5,0.2 0.5,-0.2 0.5,-0.4 0.5,0.3 0.5,-0.3 0.5,0.8 0.5,0.1 0.5,-0.2 0.5,0.7 0.5,-0.3 0.5,-0.5 0.5,0.2 0.5,0 0.5,0.6 0.5,-0.2 0.5,-0.4 0.5,0.1 0.5,-0.6 0.5,0.4 0.5,0.2 0.5,-0.5 0.5,0.4 0.5,-0.1 0.5,-0.1 0.5,-0.8 0.5,0.8 0.5,0.2 0.5,-0.4 0.5,0.5 0.5,0 0.5,-0.2 0.5,-0.1 0.5,0 0.5,-0.8 0.5,1.4 0.5,-0.7 0.5,0.4 0.5,0.4 0.5,-0.9 0.5,0.8 0.5,0 0.5,-0.4 0.5,-0.1 0.5,0.8 0.5,-1 0.5,0.6 0.5,-0.2 0.5,-0.5 0.5,0.8 0.5,-0.5 0.5,-0.5 0.5,-0.1 0.5,0.1 0.5,0.3 0.5,0.1 0.5,0.7 0.5,-1 0.5,0.5 0.5,-0.2 0.5,0.3 0.5,0 0.5,-0.2 0.5,0 0.5,0.1 0.5,-0.1 0.5,0.8 0.5,-0.6 0.5,0.3 0.5,-0.7 0.5,0.4 0.5,-0.7 0.5,0.8 0.5,-0.7 0.5,0.7 0.5,-0.4 0.5,-0.3 0.5,0.6 0.5,-0.1 0.5,0 0.5,-0.2 0.5,-0.1 0.5,0.1 0.5,-0.1 0.5,0.1 0.5,0.1 0.5,0.4 0.5,0.1 0.5,-0.8 0.5,0.6 0.5,-0.7 0.5,1.1 0.5,-1.1 0.5,0.8 0.5,-0.9 0.5,0 0.5,1.3 0.5,-1.2 0.5,0.7 0.5,0 0.5,-0.3 0.5,-0.3 0.5,0 0.5,0.3 0.2,0.1 0.3,0 0.3,0.2 0.2,-0.5 0.2,0.8 0.3,0.2 0.3,-0.6 0.2,-0.1 0.2,0.4 0.3,-0.2 0.3,-0.2 0.2,-0.2 0.2,-0.2 0.3,-0.2 0.3,0.6 0.2,0.1 0.2,-0.9 0.3,0.2 0.3,0 0.2,-0.4 0.2,-0.3 0.3,-0.1 0.3,-0.8 0.2,0.4 0.2,-0.4 0.3,0.6 0.3,-0.7 0.2,-0.7 0.2,-0.1 0.3,0.4 0.3,-0.1 0.2,-0.5 0.2,-0.1 0.3,-0.3 0.3,0.6 0.2,0.4 0.2,0 0.3,1.2 0.3,-1 0.2,0.9 0.2,0.4 0.3,0.3 0.3,0.6 0.2,-0.9 0.2,0.4 0.3,0.4 0.3,0.2 0.2,-0.1 0.2,-0.1 0.3,0.7 0.3,-0.7 0.2,0.2 0.2,0.7 0.3,0.1 0.3,-0.3 0.2,-0.6 0.2,0 0.3,0 0.3,0 0.2,0.2 0.2,0.6 0.3,-0.4 0.3,-0.3 0.2,0 0.5,0.7 0.5,-0.3 0.5,-0.5 0.5,0.7 0.5,0.7 0.5,-1.4 0.5,0.6 0.5,-0.9 0.5,0.9 0.5,-0.4 0.5,0 0.5,0.1 0.5,-0.1 0.5,0.6 0.5,-0.4 0.5,0.4 0.5,-0.2 0.5,0 0.5,-0.6 0.5,0 0.5,0.2 0.5,0.5 0.5,0.3 0.5,-0.5 0.5,0 0.5,-0.4 0.5,0.3 0.5,-0.2 0.5,0.2 0.5,-0.3 0.5,0.3 0.5,0.2 0.5,-0.1 0.5,0.3 0.5,-0.3 0.5,0.1 0.5,0.2 0.5,-0.2 0.5,-0.7 0.5,0.3 0.5,0.1 0.5,-0.2 0.5,0.7 0.5,-0.8 0.5,1.9 0.5,-1.4 0.5,-0.9 0.5,1 0.5,0.3 0.5,-0.8 0.5,0.5 0.5,-0.1 0.5,-0.5 0.5,1 0.5,-0.4 0.5,-0.1 0.5,0.6 0.5,-0.5 0.5,-0.6 0.5,0.4 0.5,0.1 0.5,0 0.5,0.2 0.5,-0.7 0.5,0.6 0.5,0 0.5,0.6 0.5,-0.4 0.5,-0.1 0.5,-0.2 0.5,-0.4 0.5,0.4 0.5,0 0.5,-0.1 0.5,0.1 0.5,0.3 0.5,-0.3 0.5,-0.2 0.5,0.3 0.5,-0.2 0.5,0.8 0.5,-0.7 0.5,0.2 0.5,0.1 0.5,0 0.5,-0.4 0.5,0.3 0.5,0 0.5,0.3 0.5,-0.6 0.5,0.1 0.5,0.4 0.5,-0.7 0.5,-0.1 0.5,0.2 0.5,0.4 0.5,-0.2 0.5,-0.3 0.5,0.4 0.5,-0.3 0.5,0.3 0.5,0.4 0.5,-1.2 0.5,0.1 0.5,0.4 0.5,0.4 0.5,0.2 0.5,-0.2 0.5,0 0.5,-0.6 0.5,0.6 0.5,-0.1 0.5,0.2 0.5,-0.5 0.5,-0.6 0.5,1 0.5,0.1 0.5,-0.2 0.5,0.1 0.3,0 0.2,-0.2 0.2,-0.4 0.3,0.6 0.3,0.2 0.2,-0.3 0.2,0.2 0.3,-0.6 0.3,0.3 0.2,0 0.2,-0.1 0.3,0.9 0.3,-0.9 0.2,-0.4 0.2,0.4 0.3,-0.8 0.3,0.3 0.2,-0.1 0.2,-0.9 0.3,-0.4 0.3,-0.8 0.2,-0.3 0.2,-1.2 0.3,-0.1 0.3,-1.6 0.2,-1.5 0.2,-1.7 0.3,-0.1 0.3,-1.5 0.2,-1.4 0.2,-1.1 0.3,-0.6 0.3,-0.3 0.2,1.1 0.2,0.2 0.3,0.4 0.3,1.5 0.2,0.6 0.2,2.5 0.3,1.3 0.3,1.5 0.2,1.2 0.2,-0.1 0.3,1.3 0.3,0.9 0.2,0.4 0.2,0 0.3,0.8 0.3,0.1 0.2,0.5 0.2,-0.3 0.3,0 0.3,0 0.2,0.1 0.2,-0.2 0.3,0.2 0.3,0.3 0.2,0 0.2,0.3 0.3,0 0.3,-0.2 0.2,-0.6 0.2,0.6 0.3,0.2 0.5,-0.8 0.5,0.1 0.5,0 0.5,-0.1 0.5,0.3 0.5,0.5 0.5,-0.2 0.5,0.1 0.5,-0.3 0.5,0.3 0.5,-0.2 0.5,0 0.5,-0.4 0.5,0.5 0.5,-0.5 0.5,0.6 0.5,-0.4 0.5,-0.3 0.5,0.9 0.5,-0.7 0.5,0.5 0.5,0.2 0.5,-0.5 0.5,0.4 0.5,0.2 0.5,-0.8 0.5,0.1 0.5,-0.2 0.5,0.1 0.5,0.5 0.5,0.1 0.5,-0.5 0.5,0.4 0.5,-0.4 0.5,0.7 0.5,-0.5 0.5,0 0.5,0.2 0.5,-0.3 0.5,-0.3 0.5,0.4 0.5,-0.9 0.5,0.5 0.5,0 0.5,0.4 0.5,-0.7 0.5,0.6 0.5,-0.2 0.5,0.5 0.5,0.1 0.5,0.4 0.5,-0.9 0.5,0.1 0.5,-0.5 0.5,-0.1 0.5,0.7 0.5,0.5 0.5,-0.8 0.5,-0.3 0.5,0.4 0.5,-0.2 0.5,0.2 0.5,-0.2 0.5,0.1 0.5,0.5 0.5,-0.5 0.5,0.3 0.5,-0.2 0.5,0.1 0.5,0.4 0.5,-0.3 0.5,-0.2 0.5,0.5 0.5,-0.8 0.5,0.3 0.5,-0.1 0.5,-0.1 0.5,0.5 0.5,-0.5 0.5,-0.1 0.5,0.9 0.5,-0.4 0.5,-0.3 0.5,0.2 0.5,0.3 0.5,-0.2 0.5,-0.5 0.5,1 0.5,-0.7 0.5,0.7 0.5,0 0.5,0.1 0.5,-0.7 0.5,0.3 0.5,0.5 0.5,-0.3 0.5,-1.1 0.5,0.6 0.5,0.7 0.5,-0.7 0.5,0 0.5,-0.7 0.5,1.2 0.5,-0.8 0.5,0.4 0.5,-0.4 0.5,0.5 0.5,0.3 0.3,-0.6 0.2,-0.4 0.2,0.7 0.3,-0.1 0.3,0.1 0.2,0.2 0.2,-0.6 0.3,0.4 0.3,-0.6 0.2,0.3 0.2,0.2 0.3,-0.3 0.3,0 0.2,-0.7 0.2,0.1 0.3,0.1 0.3,-0.8 0.2,-0.3 0.2,0.6 0.3,-1.4 0.3,-1.3 0.2,-1.1 0.2,-0.3 0.3,-2.9 0.3,-0.7 0.2,-1.3 0.2,-2.1 0.3,-1.3 0.3,-2.2 0.2,-1 0.2,-1 0.3,-0.6 0.3,0.1 0.2,0.6 0.2,1.5 0.3,1 0.3,1.5 0.2,1.8 0.2,1.7 0.3,1.2 0.3,1.4 0.2,1.5 0.2,1.8 0.3,0.7 0.3,0.9 0.2,1.8 0.2,-0.1 0.3,-0.1 0.3,0.1 0.2,0.9 0.2,-0.6 0.3,0.8 0.3,-0.1 0.2,0.3 0.2,-0.7 0.3,0.6 0.3,-0.9 0.2,0.6 0.2,0.4 0.3,-0.1 0.3,-0.9 0.2,0.9 0.2,-0.1 0.3,-0.1 0.5,-0.1 0.5,0.4 0.5,0.1 0.5,-0.8 0.5,1.2 0.5,-0.7 0.5,-0.4 0.5,0.7 0.5,-0.2 0.5,-0.7 0.5,0.7 0.5,-0.2 0.5,0.4 0.5,-0.9 0.5,0.3 0.5,0.8 0.5,-0.5 0.5,-0.5 0.5,0.9 0.5,0.3 0.5,-0.5 0.5,-0.4 0.5,-0.4 0.5,0.8 0.5,0 0.5,-0.6 0.5,0.7 0.5,-0.5 0.5,-0.3 0.5,0.4 0.5,0.1 0.5,-0.7 0.5,0 0.5,0.9 0.3,-0.8 0.2,0.7 0.2,-0.3 0.3,0.2 0.3,-0.4 0.2,0.2 0.2,0.1 0.3,0.5 0.3,-0.4 0.2,-0.2 0.2,-0.7 0.3,0.5 0.3,-0.5 0.2,0 0.2,-0.1 0.3,-0.2 0.3,-0.7 0.2,-1 0.2,-1.1 0.3,-0.8 0.3,-2.5 0.2,-1.7 0.2,-1.9 0.3,-3.2 0.3,-2.5 0.2,-3 0.2,-2.7 0.3,-3.2 0.3,-3.5 0.2,-1.2 0.2,-0.7 0.3,0.5 0.3,1.3 0.2,2.8 0.2,2.5 0.3,2.2 0.3,3.2 0.2,2.5 0.2,4.1 0.3,1.8 0.3,2.2 0.2,1.3 0.2,1.9 0.3,1.4 0.3,0.6 0.2,0.7 0.2,0.4 0.3,1.2 0.3,-0.6 0.2,-0.2 0.2,0.5 0.3,0.1 0.3,0.1 0.2,0 0.2,-0.3 0.3,0.4 0.3,0.2 0.2,-0.6 0.2,1.2 0.3,-0.1 0.3,-1.2 0.2,0.5 0.2,0.5 0.3,0.1 0.5,-1.1 0.5,0.5 0.5,-0.2 0.5,0.6 0.5,-0.6 0.5,0.5 0.5,0.4 0.5,0.1 0.5,0.1 0.5,-0.9 0.5,0.4 0.5,0.2 0.5,-0.6 0.5,0.6 0.5,-0.6 0.5,-0.1 0.5,0.8 0.5,-1.1 0.5,0.7 0.5,0.2 0.5,-0.1 0.5,0.3 0.5,-1.1 0.5,0.5 0.5,-0.4 0.5,0.2 0.5,0.7 0.5,-0.4 0.5,-0.2 0.5,0 0.5,0.3 0.5,0.1 0.3,0 0.2,0.3 0.2,-0.7 0.3,0.4 0.3,0.6 0.2,-0.9 0.2,0 0.3,0.3 0.3,-0.4 0.2,0.1 0.2,-0.2 0.3,-0.1 0.3,0.5 0.2,-0.6 0.2,-0.3 0.3,0 0.3,-0.3 0.2,-0.3 0.2,-0.3 0.3,-0.5 0.3,-2.1 0.2,-1 0.2,-2.1 0.3,-1.2 0.3,-1.9 0.2,-2.8 0.2,-2.5 0.3,-2.5 0.3,-2.5 0.2,-1.4 0.2,-1.1 0.3,-2 0.3,1.1 0.2,0.4 0.2,1.3 0.3,2.8 0.3,2.5 0.2,2.3 0.2,2.2 0.3,3 0.3,1.4 0.2,2.1 0.2,1.5 0.3,0.7 0.3,0.6 0.2,0.8 0.2,1.1 0.3,0.7 0.3,-0.5 0.2,0.6 0.2,0.9 0.3,-1.1 0.3,0.9 0.2,0 0.2,0.2 0.3,-0.8 0.3,0.7 0.2,-0.6 0.2,1 0.3,-0.8 0.3,0.5 0.2,-0.4 0.2,0.3 0.3,-0.6 0.5,0.8 0.5,0.4 0.5,-0.3 0.5,0.4 0.5,-0.8 0.5,0.3 0.5,0.1 0.5,-0.4 0.5,0.3 0.5,0.3 0.5,-0.6 0.5,0.1 0.5,0 0.5,0.4 0.5,-0.5 0.5,0.5 0.5,-0.3 0.5,-0.7 0.5,0.1 0.5,0.9 0.5,-0.2 0.5,0.1 0.5,0.3 0.5,-0.8 0.5,0.4 0.5,0.4 0.5,-0.4 0.5,-0.4 0.5,0.4 0.5,0.2 0.5,-0.4 0.5,0.8 0.5,-0.5 0.5,-0.2 0.5,-0.6 0.5,0.7 0.5,0.4 0.5,-0.3 0.5,-0.6 0.5,0.9 0.5,-0.8 0.5,1.1 0.5,-0.6 0.5,-0.1 0.5,-0.3 0.5,1 0.5,-0.7 0.5,-0.2 0.5,0.1 0.5,-0.4 0.5,0.1 0.5,0.4 0.5,0.1 0.5,0.5 0.5,-1 0.5,0.1 0.5,0.6 0.5,-0.5 0.5,0.3 0.5,-0.6 0.5,-0.2 0.5,0.2 0.5,0.7 0.5,-0.4 0.5,-0.4 0.5,0.7 0.5,0 0.5,-1.2 0.5,1.5 0.5,-0.1 0.5,0.6 0.5,-0.4 0.5,-0.3 0.5,-0.4 0.5,0.4 0.5,-0.7 0.5,0 0.5,0.4 0.5,-0.4 0.5,0.8 0.5,-0.3 0.5,0.7 0.5,-0.6 0.5,-0.3 0.5,-0.3 0.5,-0.3 0.5,0.9 0.5,-0.1 0.5,-0.3 0.5,0.1 0.5,0.6 0.5,-0.7 0.5,0.3 0.2,-0.2 0.3,-0.6 0.3,1.2 0.2,-0.5 0.2,-0.2 0.3,-0.2 0.3,0 0.2,0.6 0.2,-0.7 0.3,0.4 0.3,0.1 0.2,0.3 0.2,-0.5 0.3,-0.4 0.3,-0.4 0.2,0.2 0.2,-0.3 0.3,-0.9 0.3,-0.1 0.2,-0.8 0.2,-1.2 0.3,-0.5 0.3,-0.1 0.2,-0.6 0.2,-1.1 0.3,-1.2 0.3,-1 0.2,-0.3 0.2,-0.7 0.3,-1.1 0.3,0.6 0.2,-0.4 0.2,0.9 0.3,0.5 0.3,0.8 0.2,0.9 0.2,0.7 0.3,0.2 0.3,0.8 0.2,1.6 0.2,0.5 0.3,-0.1 0.3,0.5 0.2,1.5 0.2,1 0.3,-0.2 0.3,-0.1 0.2,0.4 0.2,-0.9 0.3,0.8 0.3,0.8 0.2,0 0.2,-1 0.3,1.2 0.3,-0.2 0.2,0.2 0.2,-0.4 0.3,0.1 0.3,-0.4 0.2,0.5 0.2,0.2 0.3,-0.6 0.3,0.5 0.2,-0.4 0.5,0.6 0.5,-0.2 0.5,-0.4 0.5,0.2 0.5,0 0.5,0.2 0.5,0.2 0.5,-0.3 0.5,0.7 0.5,-0.6 0.5,-0.5 0.5,0.5 0.5,0 0.5,0 0.5,0.7 0.5,-1.3 0.5,0.8 0.5,-0.3 0.5,-0.1 0.5,-0.3 0.5,-0.6 0.5,1.4 0.5,-0.8 0.5,0.8 0.5,-0.6 0.5,0.1 0.5,-0.2 0.5,0.1 0.5,-0.3 0.5,0.1 0.5,0.9 0.5,-0.7 0.5,0.4 0.5,-0.4 0.5,0 0.5,-0.2 0.5,0.4 0.5,0.3 0.5,0.2 0.5,0.1 0.5,-0.1 0.5,-0.5 0.5,-0.6 0.5,1.3 0.5,-0.9 0.5,0.7 0.5,-0.5 0.5,-0.1 0.5,0.2 0.5,0.1 0.5,-0.1 0.5,-0.4 0.5,-0.1 0.5,1.2 0.5,0.1 0.5,-0.8 0.5,-0.3 0.5,-0.2 0.5,0.7 0.5,0.1 0.5,-0.7 0.5,0.6 0.5,-0.4 0.5,0 0.5,0.3 0.5,-0.4 0.5,-0.4 0.5,0.4 0.5,0.3 0.5,1 0.5,-0.8 0.5,-0.8 0.5,1.3 0.5,-0.8 0.5,0.1 0.5,0.3 0.5,-0.1 0.5,0.1 0.5,-0.6 0.5,0 0.5,-0.1 0.5,0.1 0.5,0.2 0.5,0.6 0.5,-0.2 0.5,-0.1 0.5,-0.6 0.5,0.4 0.5,0.3 0.5,-0.2 0.5,-0.2 0.5,0.1 0.5,0.3 0.5,0 0.5,-0.4 0.5,0.1 0.5,0.1 0.5,-0.7 0.5,0.3 0.5,0.3 0.5,0 0.5,0 0.5,-0.1 0.5,0.5 0.5,0.1 0.5,-0.3 0.5,-0.1 0.5,-0.2 0.5,0.2 0.5,0.1 0.5,-0.5 0.5,1.2 0.5,-0.8 0.5,0 0.5,0 0.5,-0.3 0.5,0.2 0.5,-0.2 0.5,-0.1 0.5,-0.2 0.5,0.1 0.5,0.8 0.5,-0.2 0.5,-0.4 0.5,0.4 0.5,-0.3 0.5,0.1 0.5,0 0.5,0.6 0.5,-0.9 0.5,0.1 0.5,0.2 0.5,0 0.5,-0.6 0.5,-0.2 0.5,1.1 0.5,0.1 0.5,-0.2 0.5,-0.1 0.5,0.1 0.5,-0.3 0.5,-0.5 0.5,0.9 0.5,-0.1 0.5,-0.9 0.5,0.7 0.5,0.4 0.5,-0.3 0.5,-0.5 0.5,0.7 0.5,-0.2 0.5,0.6 0.5,-0.9 0.5,0.1 0.5,-0.2 0.5,-0.2 0.5,0.7 0.5,-0.4 0.5,0.7 0.5,-0.5 0.5,0.2 0.5,0.1 0.5,0.3 0.5,-0.4 0.5,-0.6 0.5,0.2 0.5,0.2 0.5,-0.3 0.5,0.5 0.5,0 0.5,0.1 0.5,-0.9 0.5,0.3 0.5,-0.3 0.5,0.4 0.5,0.8 0.5,-0.7 0.5,-0.4 0.5,0.5 0.5,0.2 0.5,0.2 0.5,-0.1 0.5,-0.2 0.5,-0.5 0.5,0.4 0.5,0.1 0.5,-0.5 0.5,0.5 0.5,0.3 0.5,-0.1 0.5,-0.6 0.5,0.1 0.5,0.5 0.5,-0.2 0.5,-0.2 0.5,0.6 0.5,-0.2 0.5,-0.2 0.5,-0.1 0.5,0.1 0.5,-0.2 0.5,0.3 0.5,0.2 0.3,-0.5 0.2,1 0.2,-1.2 0.3,0.1 0.3,0 0.2,0.3 0.2,0.3 0.3,-0.4 0.3,-0.2 0.2,0.8 0.2,-0.4 0.3,-0.5 0.3,0 0.2,-0.6 0.2,0.4 0.3,0.4 0.3,-1.2 0.2,-0.3 0.2,0.3 0.3,-1.1 0.3,1 0.2,-1.4 0.2,0 0.3,-0.2 0.3,0.1 0.2,-0.6 0.2,-1.2 0.3,-0.2 0.3,0.4 0.2,-1 0.2,0.6 0.3,-0.2 0.3,0.7 0.2,0.4 0.2,-1 0.3,1.3 0.3,0.5 0.2,-0.2 0.2,0.4 0.3,0.2 0.3,0.6 0.2,0.6 0.2,0.6 0.3,0.3 0.3,-0.4 0.2,0 0.2,0.8 0.3,-1.1 0.3,0.5 0.2,0.9 0.2,0.6 0.3,-1 0.3,0.3 0.2,-0.4 0.2,0.4 0.3,0.1 0.3,-0.3 0.2,0.5 0.2,-0.2 0.3,0.2 0.3,-0.2 0.2,-0.4 0.2,0.5 0.3,0.3 0.5,0.1 0.5,-0.6 0.5,0 0.5,0.5 0.5,-0.5 0.5,0.1 0.5,0.6 0.5,-0.4 0.5,0.1 0.5,-0.5 0.5,0.2 0.5,0.7 0.5,-0.7 0.5,0.2 0.5,-0.1 0.5,-0.1 0.5,0.2 0.5,0.2 0.5,-0.2 0.5,0.3 0.5,-0.7 0.5,0.8 0.5,-0.2 0.5,-0.4 0.3,0 0.2,0.6 0.2,-1.1 0.3,0.1 0.3,0.7 0.2,0.1 0.2,-0.9 0.3,0.2 0.3,-0.1 0.2,0.5 0.2,-0.4 0.3,0.7 0.3,-0.3 0.2,-0.3 0.2,-0.2 0.3,0 0.3,-0.2 0.2,-0.6 0.2,-0.4 0.3,-0.4 0.3,-1.1 0.2,-0.5 0.2,-1.5 0.3,-1.5 0.3,-1.1 0.2,-1.1 0.2,-1.7 0.3,-2.7 0.3,-0.9 0.2,-1.8 0.2,-1.1 0.3,-0.7 0.3,-0.2 0.2,0.3 0.2,1.1 0.3,1.4 0.3,1.1 0.2,1.6 0.2,1.7 0.3,1.6 0.3,2.1 0.2,0.8 0.2,1.5 0.3,1.1 0.3,1.1 0.2,0.5 0.2,0.9 0.3,0 0.3,0.4 0.2,0.4 0.2,-0.6 0.3,0.8 0.3,0.5 0.2,-0.5 0.2,-0.1 0.3,0.8 0.3,-0.6 0.2,0.4 0.2,-1.2 0.3,0.9 0.3,-0.2 0.2,0.3 0.2,0.3 0.3,-0.5 0.5,-0.9 0.5,1.4 0.5,-0.6 0.5,0.6 0.5,0.3 0.5,-1.2 0.5,1 0.5,-0.5 0.5,-0.4 0.5,-0.3 0.5,0.9 0.5,-0.5 0.5,-0.3 0.5,0.9 0.5,-0.6 0.5,0.7 0.5,-0.2 0.5,-0.3 0.5,0.1 0.5,0.3 0.5,-0.4 0.5,0.3 0.5,-0.1 0.5,-0.1 0.5,-0.4 0.2,0.7 0.3,-0.1 0.3,0.5 0.2,-0.7 0.2,0.3 0.3,-0.3 0.3,-0.4 0.2,0.1 0.2,0 0.3,0.5 0.3,-0.6 0.2,0.3 0.2,0.2 0.3,0.1 0.3,-0.2 0.2,0.1 0.2,-1.1 0.3,0.1 0.3,0.1 0.2,0.1 0.2,-0.5 0.3,-0.7 0.3,0 0.2,-0.8 0.2,0.6 0.3,-1.2 0.3,0.5 0.2,0 0.2,-0.2 0.3,-1.1 0.3,0.6 0.2,-0.2 0.2,0.1 0.3,0.8 0.3,-0.3 0.2,-0.4 0.2,0.4 0.3,0.9 0.3,0.1 0.2,-0.2 0.2,0.1 0.3,0.6 0.3,0.3 0.2,0.6 0.2,-0.3 0.3,0.6 0.3,0.3 0.2,-0.8 0.2,0.4 0.3,0.9 0.3,-0.7 0.2,0.2 0.2,0.4 0.3,-0.6 0.3,0.2 0.2,-0.5 0.2,0.8 0.3,-0.3 0.3,0 0.2,-0.7 0.2,1.2 0.3,-0.1 0.3,-0.5 0.2,0.7 0.5,-0.4 0.5,0.9 0.5,-1.3 0.5,0.7 0.5,-0.2 0.5,0.6 0.5,-0.6 0.5,-0.5 0.5,0.8 0.5,-0.9 0.5,1.2 0.5,-0.4 0.5,-0.5 0.5,0.5 0.5,-0.4 0.5,0.2 0.5,-0.2 0.5,0.6 0.5,-0.7 0.5,0 0.5,-0.1 0.5,0.2 0.5,0.7 0.5,-0.2 0.5,-0.9 0.5,0.4 0.5,0.4 0.5,-0.7 0.5,0.4 0.5,-0.1 0.5,0.2 0.5,0 0.5,-0.1 0.5,0.3 0.5,0.2 0.5,-1 0.5,0.9 0.5,0.1 0.5,-0.5 0.5,-0.5 0.5,0.4 0.5,0.1 0.5,-0.9 0.5,1.1 0.5,-0.3 0.5,-0.6 0.5,1.1 0.5,-0.6 0.5,0.6 0.5,-0.1 0.5,-0.4 0.5,0 0.5,0 0.5,-0.1 0.5,0.5 0.5,-0.6 0.5,0 0.5,0.3 0.5,0.3 0.5,0.2 0.5,-0.6 0.5,0 0.5,0.3 0.5,-0.7 0.5,0.4 0.5,0 0.5,-0.4 0.5,0.8 0.5,-0.3 0.5,0.3 0.5,0 0.5,0 0.5,0 0.5,-0.4 0.5,0.6 0.5,-0.6 0.5,0.5 0.5,0 0.5,0 0.5,-0.5 0.5,0 0.5,0.5 0.5,0.1 0.5,-0.6 0.5,-0.3 0.5,0.7 0.5,-0.1 0.5,-0.4 0.5,0.7 0.5,0 0.5,-0.1 0.5,-0.3 0.5,0.1 0.5,0.1 0.5,-0.2 0.5,0.3 0.5,-0.5 0.5,0.1 0.5,0.6 0.5,-0.5 0.5,0.8 0.5,-0.8 0.5,-0.4 0.5,0.1 0.5,0.5 0.5,-0.5 0.5,0 0.5,0.8 0.5,-0.1 0.5,0 0.5,-0.5 0.5,0.2 0.5,-0.3 0.5,-0.4 0.5,0.9 0.5,-0.1 0.5,-0.9 0.5,0.8 0.5,0.3 0.5,-0.4 0.5,0.2 0.5,-0.1 0.5,-0.5 0.5,1 0.5,-0.2 0.5,-0.5 0.5,0.2 0.5,-0.1 0.5,0.3 0.5,0.3 0.5,-0.6 0.5,0.2 0.5,0 0.5,-0.3 0.5,-0.1 0.5,0.5 0.5,0.2 0.5,-0.7 0.5,-0.1 0.5,0.4 0.5,0.2 0.5,-0.6 0.5,1.2 0.5,-1.1 0.5,0.8 0.5,-0.9 0.5,0.4 0.5,0.4 0.5,0.1 0.5,-0.5 0.5,0.2 0.5,0.1 0.5,-0.1 0.5,-0.2 0.5,0 0.5,0.4 0.5,-0.4 0.5,0.3 0.5,-0.5 0.5,0.2 0.5,0 0.5,-0.3 0.5,0.6 0.5,-0.2 0.5,0.4 0.5,-0.3 0.5,-0.6 0.5,-0.1 0.5,0.6 0.5,0 0.5,-0.3 0.5,-0.1 0.5,-0.2 0.5,0.7 0.5,-0.4 0.5,-0.2 0.5,-0.1 0.5,0.4 0.5,-0.1 0.5,0.2 0.5,-0.2 0.5,-0.1 0.5,0.7 0.5,-0.7 0.5,0.3 0.5,0.2 0.5,0 0.5,-0.1 0.5,0.4 0.5,-0.3 0.5,-0.4 0.5,0.3 0.5,0.1 0.5,-0.3 0.5,0.7 0.5,-1.1 0.5,0.6 0.5,0.3 0.5,-0.1 0.5,-0.1 0.5,0.4 0.5,-0.6 0.5,0.1 0.5,0 0.5,-0.2 0.5,0.2 0.5,0.2 0.5,-0.2 0.5,0.1 0.5,-0.2 0.5,-0.2 0.5,0.5 0.5,-0.2 0.5,0 0.5,-0.7 0.5,0.3 0.5,-0.1 0.5,0.3 0.5,-0.1 0.5,0.3 0.5,0 0.5,-0.1 0.5,-0.2 0.5,0.1 0.5,1.1 0.5,-0.9 0.5,0.2 0.5,0.2 0.5,0.3 0.5,-0.7 0.5,-0.6 0.5,1.2 0.5,-1 0.5,0.9 0.5,-0.4 0.5,0.1 0.5,-0.1 0.5,-0.4 0.5,0.4 0.5,-0.1 0.5,-0.3 0.5,0.1 0.5,0.5 0.5,-0.8 0.5,0 0.5,0.7 0.5,-0.5 0.5,0.2 0.5,0.4 0.5,-0.6 0.5,0 0.5,0.3 0.5,0 0.5,-0.2 0.5,0.5 0.5,-0.3 0.5,-0.1 0.5,0.4 0.5,-0.9 0.5,0.7 0.5,-0.5 0.5,-0.2 0.5,0.3 0.5,0.3 0.5,-0.4 0.5,0.6 0.5,-0.1 0.5,-0.7 0.5,1.2 0.5,-0.8 0.5,0.5 0.5,0.3 0.5,-0.3 0.5,0.4 0.5,-0.4 0.5,-0.7 0.5,0.7 0.5,-0.4 0.5,-0.2 0.5,0.4 0.5,0.1 0.5,0.3 0.5,-0.6 0.5,-0.3 0.5,0.3 0.5,-0.1 0.5,0 0.5,0.5 0.5,0.4 0.5,-1.2 0.5,-0.1 0.5,0.6 0.5,0.2 0.5,-0.3 0.5,0 0.5,0.6 0.5,-0.3 0.5,-0.3 0.5,0.1 0.5,0.1 0.5,0.2 0.5,-0.6 0.5,0.6 0.5,-1.1 0.5,1.2 0.5,-0.8 0.5,0.1 0.5,0.2 0.5,0.3 0.5,0.1 0.5,-0.4 0.5,-0.2 0.5,0.7 0.5,-0.7 0.5,0.4 0.5,-0.1 0.5,0.5 0.5,-0.5 0.5,-0.1 0.5,0 0.5,-0.1 0.5,0.1 0.5,-0.5 0.5,0.9 0.5,-0.5 0.5,0.1 0.5,0.3 0.5,0 0.5,-0.8 0.5,0.4 0.5,0.3 0.5,0.1 0.5,-0.7 0.5,0.7 0.5,-0.1 0.5,-0.5 0.5,0.1 0.5,0.8 0.5,-0.6 0.5,0.5 0.5,-0.7 0.5,0.5 0.5,-0.2 0.5,-0.9 0.5,0.6 0.5,0.9 0.5,-0.5 0.5,0.6 0.2,-0.8 0.3,0.6 0.3,-0.9 0.2,0.4 0.2,-0.2 0.3,-0.2 0.3,0.5 0.2,0.5 0.2,0 0.3,-0.5 0.3,-0.7 0.2,0.1 0.2,0.4 0.3,-0.1 0.3,-0.2 0.2,-0.5 0.2,-0.5 0.3,0.1 0.3,-0.5 0.2,0 0.2,-1.4 0.3,-0.1 0.3,-0.6 0.2,-0.7 0.2,-0.9 0.3,-2.1 0.3,-1 0.2,-0.5 0.2,-1.3 0.3,-1.4 0.3,0.7 0.2,-0.7 0.2,0.1 0.3,-0.1 0.3,0.9 0.2,0.4 0.2,0.8 0.3,1.6 0.3,-0.1 0.2,1.6 0.2,0.2 0.3,2 0.3,0.2 0.2,0.5 0.2,0.4 0.3,1.1 0.3,1.3 0.2,-0.2 0.2,-0.4 0.3,0.1 0.3,1.9 0.2,-1.1 0.2,-0.2 0.3,0.7 0.3,0.2 0.2,0.4 0.2,-0.6 0.3,-0.2 0.3,0.5 0.2,-0.5 0.2,0.4 0.3,0 0.3,0.3 0.2,-0.6 0.5,0.3 0.5,-0.6 0.5,0.6 0.5,0.8 0.5,-0.4 0.5,-0.4 0.5,0.4 0.5,0.1 0.5,-0.2 0.5,-0.4 0.5,0.4 0.5,-0.6 0.5,0 0.5,0 0.5,0 0.5,0.9 0.5,-0.8 0.5,-0.4 0.5,1 0.5,-0.7 0.5,0.1 0.5,0.7 0.2,-0.3 0.3,0 0.3,0.5 0.2,-0.6 0.2,0.1 0.3,-0.2 0.3,-0.3 0.2,0.8 0.2,-1.1 0.3,0.5 0.3,-0.5 0.2,0.1 0.2,-0.3 0.3,0.3 0.3,0.1 0.2,0.2 0.2,-1.3 0.3,0.6 0.3,-0.5 0.2,-0.3 0.2,-0.1 0.3,-0.2 0.3,-0.4 0.2,-0.3 0.2,0.5 0.3,-1.1 0.3,-0.2 0.2,-0.8 0.2,0.6 0.3,-0.7 0.3,0.1 0.2,-0.2 0.2,0.3 0.3,-0.1 0.3,0.1 0.2,0.3 0.2,0.7 0.3,0.4 0.3,0.6 0.2,0.6 0.2,0.4 0.3,-0.6 0.3,0.2 0.2,0.8 0.2,-0.4 0.3,0.9 0.3,0.1 0.2,-0.6 0.2,0.7 0.3,0.4 0.3,-0.3 0.2,-0.2 0.2,0.1 0.3,0.2 0.3,-0.4 0.2,0.4 0.2,-0.2 0.3,-0.1 0.3,-0.1 0.2,0.5 0.2,-0.5 0.3,0.4 0.3,-0.7 0.2,0.6 0.5,0.2 0.5,0.1 0.5,-0.3 0.5,-0.3 0.5,0.5 0.5,0 0.5,0.2 0.5,-0.2" fill="none" stroke="#ff4040" stroke-width="5.2" stroke-linejoin="round" stroke-linecap="round"/>
<rect x="138" y="40" width="7" height="965" fill="#000"/>
<rect x="1418" y="40" width="8" height="965" fill="#000"/>
<rect x="138" y="40" width="1288" height="8" fill="#000"/>
<rect x="138" y="997" width="1288" height="8" fill="#000"/>
<rect x="208.50" y="982" width="7" height="16" fill="#000"/>
<text x="212.70" y="1064" class="t">10</text>
<rect x="350.88" y="982" width="7" height="16" fill="#000"/>
<text x="355.07" y="1064" class="t">20</text>
<rect x="493.25" y="982" width="7" height="16" fill="#000"/>
<text x="497.45" y="1064" class="t">30</text>
<rect x="635.62" y="982" width="7" height="16" fill="#000"/>
<text x="639.83" y="1064" class="t">40</text>
<rect x="778.00" y="982" width="7" height="16" fill="#000"/>
<text x="782.20" y="1064" class="t">50</text>
<rect x="920.38" y="982" width="7" height="16" fill="#000"/>
<text x="924.58" y="1064" class="t">60</text>
<rect x="1062.75" y="982" width="7" height="16" fill="#000"/>
<text x="1066.95" y="1064" class="t">70</text>
<rect x="1205.12" y="982" width="7" height="16" fill="#000"/>
<text x="1209.33" y="1064" class="t">80</text>
<rect x="1347.50" y="982" width="7" height="16" fill="#000"/>
<text x="1351.70" y="1064" class="t">90</text>
<rect x="279.69" y="992" width="7" height="6" fill="#000"/>
<rect x="422.06" y="992" width="7" height="6" fill="#000"/>
<rect x="564.44" y="992" width="7" height="6" fill="#000"/>
<rect x="706.81" y="992" width="7" height="6" fill="#000"/>
<rect x="849.19" y="992" width="7" height="6" fill="#000"/>
<rect x="991.56" y="992" width="7" height="6" fill="#000"/>
<rect x="1133.94" y="992" width="7" height="6" fill="#000"/>
<rect x="1276.31" y="992" width="7" height="6" fill="#000"/>
<text transform="translate(628.8,1167.7) scale(0.984,1)" class="ax" style="text-anchor:start">2θ(degree)</text>
<text transform="translate(76,524) rotate(-90)" class="ax">Intensity(a.u.)</text>
<text class="lb" transform="translate(920.3,313.1) scale(0.953,1)">1:2 Ag<tspan dy="11">3</tspan><tspan dy="-11">PO</tspan><tspan dy="11">4</tspan><tspan dy="-11">/g-C</tspan><tspan dy="11">3</tspan><tspan dy="-11">N</tspan><tspan dy="11">4</tspan></text>
<text class="lb" transform="translate(1149.6,489.6) scale(0.961,1)">g-C<tspan dy="11">3</tspan><tspan dy="-11">N</tspan><tspan dy="11">4</tspan></text>
<text class="lb" transform="translate(1146.3,801.8) scale(0.955,1)">Ag<tspan dy="11">3</tspan><tspan dy="-11">PO</tspan><tspan dy="11">4</tspan></text>
<g transform="translate(275.0,446.0) rotate(-90)"><path d="M9.98,-25.98 L8.57,-25.47 L7.23,-24.81 L5.96,-24.01 L4.79,-23.09 L3.72,-22.04 L2.77,-20.89 L1.94,-19.64 L1.25,-18.31 L0.71,-16.92 L0.32,-15.47 L0.08,-13.99 L0.00,-12.50 L0.08,-11.01 L0.32,-9.53 L0.71,-8.08 L1.25,-6.69 L1.94,-5.36 L2.77,-4.11 L3.72,-2.96 L4.79,-1.91 L5.96,-0.99 L7.23,-0.19 L8.57,0.47 L9.98,0.98 L10.24,0.98 L8.94,0.47 L7.73,-0.19 L6.63,-0.99 L5.65,-1.91 L4.82,-2.96 L4.12,-4.11 L3.55,-5.36 L3.11,-6.69 L2.79,-8.08 L2.57,-9.53 L2.44,-11.01 L2.40,-12.50 L2.44,-13.99 L2.57,-15.47 L2.79,-16.92 L3.11,-18.31 L3.55,-19.64 L4.12,-20.89 L4.82,-22.04 L5.65,-23.09 L6.63,-24.01 L7.73,-24.81 L8.94,-25.47 L10.24,-25.98Z" transform="translate(0,0)"/><text x="13.5" y="0" class="h">100</text><path d="M-9.98,-25.98 L-8.57,-25.47 L-7.23,-24.81 L-5.96,-24.01 L-4.79,-23.09 L-3.72,-22.04 L-2.77,-20.89 L-1.94,-19.64 L-1.25,-18.31 L-0.71,-16.92 L-0.32,-15.47 L-0.08,-13.99 L-0.00,-12.50 L-0.08,-11.01 L-0.32,-9.53 L-0.71,-8.08 L-1.25,-6.69 L-1.94,-5.36 L-2.77,-4.11 L-3.72,-2.96 L-4.79,-1.91 L-5.96,-0.99 L-7.23,-0.19 L-8.57,0.47 L-9.98,0.98 L-10.24,0.98 L-8.94,0.47 L-7.73,-0.19 L-6.63,-0.99 L-5.65,-1.91 L-4.82,-2.96 L-4.12,-4.11 L-3.55,-5.36 L-3.11,-6.69 L-2.79,-8.08 L-2.57,-9.53 L-2.44,-11.01 L-2.40,-12.50 L-2.44,-13.99 L-2.57,-15.47 L-2.79,-16.92 L-3.11,-18.31 L-3.55,-19.64 L-4.12,-20.89 L-4.82,-22.04 L-5.65,-23.09 L-6.63,-24.01 L-7.73,-24.81 L-8.94,-25.47 L-10.24,-25.98Z" transform="translate(80,0)"/></g>
<g transform="translate(544.0,424.6) rotate(-90)"><path d="M9.98,-25.98 L8.57,-25.47 L7.23,-24.81 L5.96,-24.01 L4.79,-23.09 L3.72,-22.04 L2.77,-20.89 L1.94,-19.64 L1.25,-18.31 L0.71,-16.92 L0.32,-15.47 L0.08,-13.99 L0.00,-12.50 L0.08,-11.01 L0.32,-9.53 L0.71,-8.08 L1.25,-6.69 L1.94,-5.36 L2.77,-4.11 L3.72,-2.96 L4.79,-1.91 L5.96,-0.99 L7.23,-0.19 L8.57,0.47 L9.98,0.98 L10.24,0.98 L8.94,0.47 L7.73,-0.19 L6.63,-0.99 L5.65,-1.91 L4.82,-2.96 L4.12,-4.11 L3.55,-5.36 L3.11,-6.69 L2.79,-8.08 L2.57,-9.53 L2.44,-11.01 L2.40,-12.50 L2.44,-13.99 L2.57,-15.47 L2.79,-16.92 L3.11,-18.31 L3.55,-19.64 L4.12,-20.89 L4.82,-22.04 L5.65,-23.09 L6.63,-24.01 L7.73,-24.81 L8.94,-25.47 L10.24,-25.98Z" transform="translate(0,0)"/><text x="13.5" y="0" class="h">002</text><path d="M-9.98,-25.98 L-8.57,-25.47 L-7.23,-24.81 L-5.96,-24.01 L-4.79,-23.09 L-3.72,-22.04 L-2.77,-20.89 L-1.94,-19.64 L-1.25,-18.31 L-0.71,-16.92 L-0.32,-15.47 L-0.08,-13.99 L-0.00,-12.50 L-0.08,-11.01 L-0.32,-9.53 L-0.71,-8.08 L-1.25,-6.69 L-1.94,-5.36 L-2.77,-4.11 L-3.72,-2.96 L-4.79,-1.91 L-5.96,-0.99 L-7.23,-0.19 L-8.57,0.47 L-9.98,0.98 L-10.24,0.98 L-8.94,0.47 L-7.73,-0.19 L-6.63,-0.99 L-5.65,-1.91 L-4.82,-2.96 L-4.12,-4.11 L-3.55,-5.36 L-3.11,-6.69 L-2.79,-8.08 L-2.57,-9.53 L-2.44,-11.01 L-2.40,-12.50 L-2.44,-13.99 L-2.57,-15.47 L-2.79,-16.92 L-3.11,-18.31 L-3.55,-19.64 L-4.12,-20.89 L-4.82,-22.04 L-5.65,-23.09 L-6.63,-24.01 L-7.73,-24.81 L-8.94,-25.47 L-10.24,-25.98Z" transform="translate(80,0)"/></g>
<g transform="translate(394.0,915.0) rotate(-90)"><path d="M9.98,-25.98 L8.57,-25.47 L7.23,-24.81 L5.96,-24.01 L4.79,-23.09 L3.72,-22.04 L2.77,-20.89 L1.94,-19.64 L1.25,-18.31 L0.71,-16.92 L0.32,-15.47 L0.08,-13.99 L0.00,-12.50 L0.08,-11.01 L0.32,-9.53 L0.71,-8.08 L1.25,-6.69 L1.94,-5.36 L2.77,-4.11 L3.72,-2.96 L4.79,-1.91 L5.96,-0.99 L7.23,-0.19 L8.57,0.47 L9.98,0.98 L10.24,0.98 L8.94,0.47 L7.73,-0.19 L6.63,-0.99 L5.65,-1.91 L4.82,-2.96 L4.12,-4.11 L3.55,-5.36 L3.11,-6.69 L2.79,-8.08 L2.57,-9.53 L2.44,-11.01 L2.40,-12.50 L2.44,-13.99 L2.57,-15.47 L2.79,-16.92 L3.11,-18.31 L3.55,-19.64 L4.12,-20.89 L4.82,-22.04 L5.65,-23.09 L6.63,-24.01 L7.73,-24.81 L8.94,-25.47 L10.24,-25.98Z" transform="translate(0,0)"/><text x="13.5" y="0" class="h">110</text><path d="M-9.98,-25.98 L-8.57,-25.47 L-7.23,-24.81 L-5.96,-24.01 L-4.79,-23.09 L-3.72,-22.04 L-2.77,-20.89 L-1.94,-19.64 L-1.25,-18.31 L-0.71,-16.92 L-0.32,-15.47 L-0.08,-13.99 L-0.00,-12.50 L-0.08,-11.01 L-0.32,-9.53 L-0.71,-8.08 L-1.25,-6.69 L-1.94,-5.36 L-2.77,-4.11 L-3.72,-2.96 L-4.79,-1.91 L-5.96,-0.99 L-7.23,-0.19 L-8.57,0.47 L-9.98,0.98 L-10.24,0.98 L-8.94,0.47 L-7.73,-0.19 L-6.63,-0.99 L-5.65,-1.91 L-4.82,-2.96 L-4.12,-4.11 L-3.55,-5.36 L-3.11,-6.69 L-2.79,-8.08 L-2.57,-9.53 L-2.44,-11.01 L-2.40,-12.50 L-2.44,-13.99 L-2.57,-15.47 L-2.79,-16.92 L-3.11,-18.31 L-3.55,-19.64 L-4.12,-20.89 L-4.82,-22.04 L-5.65,-23.09 L-6.63,-24.01 L-7.73,-24.81 L-8.94,-25.47 L-10.24,-25.98Z" transform="translate(80,0)"/></g>
<g transform="translate(519.0,914.0) rotate(-90)"><path d="M9.98,-25.98 L8.57,-25.47 L7.23,-24.81 L5.96,-24.01 L4.79,-23.09 L3.72,-22.04 L2.77,-20.89 L1.94,-19.64 L1.25,-18.31 L0.71,-16.92 L0.32,-15.47 L0.08,-13.99 L0.00,-12.50 L0.08,-11.01 L0.32,-9.53 L0.71,-8.08 L1.25,-6.69 L1.94,-5.36 L2.77,-4.11 L3.72,-2.96 L4.79,-1.91 L5.96,-0.99 L7.23,-0.19 L8.57,0.47 L9.98,0.98 L10.24,0.98 L8.94,0.47 L7.73,-0.19 L6.63,-0.99 L5.65,-1.91 L4.82,-2.96 L4.12,-4.11 L3.55,-5.36 L3.11,-6.69 L2.79,-8.08 L2.57,-9.53 L2.44,-11.01 L2.40,-12.50 L2.44,-13.99 L2.57,-15.47 L2.79,-16.92 L3.11,-18.31 L3.55,-19.64 L4.12,-20.89 L4.82,-22.04 L5.65,-23.09 L6.63,-24.01 L7.73,-24.81 L8.94,-25.47 L10.24,-25.98Z" transform="translate(0,0)"/><text x="13.5" y="0" class="h">200</text><path d="M-9.98,-25.98 L-8.57,-25.47 L-7.23,-24.81 L-5.96,-24.01 L-4.79,-23.09 L-3.72,-22.04 L-2.77,-20.89 L-1.94,-19.64 L-1.25,-18.31 L-0.71,-16.92 L-0.32,-15.47 L-0.08,-13.99 L-0.00,-12.50 L-0.08,-11.01 L-0.32,-9.53 L-0.71,-8.08 L-1.25,-6.69 L-1.94,-5.36 L-2.77,-4.11 L-3.72,-2.96 L-4.79,-1.91 L-5.96,-0.99 L-7.23,-0.19 L-8.57,0.47 L-9.98,0.98 L-10.24,0.98 L-8.94,0.47 L-7.73,-0.19 L-6.63,-0.99 L-5.65,-1.91 L-4.82,-2.96 L-4.12,-4.11 L-3.55,-5.36 L-3.11,-6.69 L-2.79,-8.08 L-2.57,-9.53 L-2.44,-11.01 L-2.40,-12.50 L-2.44,-13.99 L-2.57,-15.47 L-2.79,-16.92 L-3.11,-18.31 L-3.55,-19.64 L-4.12,-20.89 L-4.82,-22.04 L-5.65,-23.09 L-6.63,-24.01 L-7.73,-24.81 L-8.94,-25.47 L-10.24,-25.98Z" transform="translate(80,0)"/></g>
<g transform="translate(570.0,758.3) rotate(-90)"><path d="M9.98,-25.98 L8.57,-25.47 L7.23,-24.81 L5.96,-24.01 L4.79,-23.09 L3.72,-22.04 L2.77,-20.89 L1.94,-19.64 L1.25,-18.31 L0.71,-16.92 L0.32,-15.47 L0.08,-13.99 L0.00,-12.50 L0.08,-11.01 L0.32,-9.53 L0.71,-8.08 L1.25,-6.69 L1.94,-5.36 L2.77,-4.11 L3.72,-2.96 L4.79,-1.91 L5.96,-0.99 L7.23,-0.19 L8.57,0.47 L9.98,0.98 L10.24,0.98 L8.94,0.47 L7.73,-0.19 L6.63,-0.99 L5.65,-1.91 L4.82,-2.96 L4.12,-4.11 L3.55,-5.36 L3.11,-6.69 L2.79,-8.08 L2.57,-9.53 L2.44,-11.01 L2.40,-12.50 L2.44,-13.99 L2.57,-15.47 L2.79,-16.92 L3.11,-18.31 L3.55,-19.64 L4.12,-20.89 L4.82,-22.04 L5.65,-23.09 L6.63,-24.01 L7.73,-24.81 L8.94,-25.47 L10.24,-25.98Z" transform="translate(0,0)"/><text x="13.5" y="0" class="h">210</text><path d="M-9.98,-25.98 L-8.57,-25.47 L-7.23,-24.81 L-5.96,-24.01 L-4.79,-23.09 L-3.72,-22.04 L-2.77,-20.89 L-1.94,-19.64 L-1.25,-18.31 L-0.71,-16.92 L-0.32,-15.47 L-0.08,-13.99 L-0.00,-12.50 L-0.08,-11.01 L-0.32,-9.53 L-0.71,-8.08 L-1.25,-6.69 L-1.94,-5.36 L-2.77,-4.11 L-3.72,-2.96 L-4.79,-1.91 L-5.96,-0.99 L-7.23,-0.19 L-8.57,0.47 L-9.98,0.98 L-10.24,0.98 L-8.94,0.47 L-7.73,-0.19 L-6.63,-0.99 L-5.65,-1.91 L-4.82,-2.96 L-4.12,-4.11 L-3.55,-5.36 L-3.11,-6.69 L-2.79,-8.08 L-2.57,-9.53 L-2.44,-11.01 L-2.40,-12.50 L-2.44,-13.99 L-2.57,-15.47 L-2.79,-16.92 L-3.11,-18.31 L-3.55,-19.64 L-4.12,-20.89 L-4.82,-22.04 L-5.65,-23.09 L-6.63,-24.01 L-7.73,-24.81 L-8.94,-25.47 L-10.24,-25.98Z" transform="translate(80,0)"/></g>
<g transform="translate(618.0,882.0) rotate(-90)"><path d="M9.98,-25.98 L8.57,-25.47 L7.23,-24.81 L5.96,-24.01 L4.79,-23.09 L3.72,-22.04 L2.77,-20.89 L1.94,-19.64 L1.25,-18.31 L0.71,-16.92 L0.32,-15.47 L0.08,-13.99 L0.00,-12.50 L0.08,-11.01 L0.32,-9.53 L0.71,-8.08 L1.25,-6.69 L1.94,-5.36 L2.77,-4.11 L3.72,-2.96 L4.79,-1.91 L5.96,-0.99 L7.23,-0.19 L8.57,0.47 L9.98,0.98 L10.24,0.98 L8.94,0.47 L7.73,-0.19 L6.63,-0.99 L5.65,-1.91 L4.82,-2.96 L4.12,-4.11 L3.55,-5.36 L3.11,-6.69 L2.79,-8.08 L2.57,-9.53 L2.44,-11.01 L2.40,-12.50 L2.44,-13.99 L2.57,-15.47 L2.79,-16.92 L3.11,-18.31 L3.55,-19.64 L4.12,-20.89 L4.82,-22.04 L5.65,-23.09 L6.63,-24.01 L7.73,-24.81 L8.94,-25.47 L10.24,-25.98Z" transform="translate(0,0)"/><text x="13.5" y="0" class="h">211</text><path d="M-9.98,-25.98 L-8.57,-25.47 L-7.23,-24.81 L-5.96,-24.01 L-4.79,-23.09 L-3.72,-22.04 L-2.77,-20.89 L-1.94,-19.64 L-1.25,-18.31 L-0.71,-16.92 L-0.32,-15.47 L-0.08,-13.99 L-0.00,-12.50 L-0.08,-11.01 L-0.32,-9.53 L-0.71,-8.08 L-1.25,-6.69 L-1.94,-5.36 L-2.77,-4.11 L-3.72,-2.96 L-4.79,-1.91 L-5.96,-0.99 L-7.23,-0.19 L-8.57,0.47 L-9.98,0.98 L-10.24,0.98 L-8.94,0.47 L-7.73,-0.19 L-6.63,-0.99 L-5.65,-1.91 L-4.82,-2.96 L-4.12,-4.11 L-3.55,-5.36 L-3.11,-6.69 L-2.79,-8.08 L-2.57,-9.53 L-2.44,-11.01 L-2.40,-12.50 L-2.44,-13.99 L-2.57,-15.47 L-2.79,-16.92 L-3.11,-18.31 L-3.55,-19.64 L-4.12,-20.89 L-4.82,-22.04 L-5.65,-23.09 L-6.63,-24.01 L-7.73,-24.81 L-8.94,-25.47 L-10.24,-25.98Z" transform="translate(80,0)"/></g>
<g transform="translate(697.5,922.7) rotate(-90)"><path d="M9.98,-25.98 L8.57,-25.47 L7.23,-24.81 L5.96,-24.01 L4.79,-23.09 L3.72,-22.04 L2.77,-20.89 L1.94,-19.64 L1.25,-18.31 L0.71,-16.92 L0.32,-15.47 L0.08,-13.99 L0.00,-12.50 L0.08,-11.01 L0.32,-9.53 L0.71,-8.08 L1.25,-6.69 L1.94,-5.36 L2.77,-4.11 L3.72,-2.96 L4.79,-1.91 L5.96,-0.99 L7.23,-0.19 L8.57,0.47 L9.98,0.98 L10.24,0.98 L8.94,0.47 L7.73,-0.19 L6.63,-0.99 L5.65,-1.91 L4.82,-2.96 L4.12,-4.11 L3.55,-5.36 L3.11,-6.69 L2.79,-8.08 L2.57,-9.53 L2.44,-11.01 L2.40,-12.50 L2.44,-13.99 L2.57,-15.47 L2.79,-16.92 L3.11,-18.31 L3.55,-19.64 L4.12,-20.89 L4.82,-22.04 L5.65,-23.09 L6.63,-24.01 L7.73,-24.81 L8.94,-25.47 L10.24,-25.98Z" transform="translate(0,0)"/><text x="13.5" y="0" class="h">220</text><path d="M-9.98,-25.98 L-8.57,-25.47 L-7.23,-24.81 L-5.96,-24.01 L-4.79,-23.09 L-3.72,-22.04 L-2.77,-20.89 L-1.94,-19.64 L-1.25,-18.31 L-0.71,-16.92 L-0.32,-15.47 L-0.08,-13.99 L-0.00,-12.50 L-0.08,-11.01 L-0.32,-9.53 L-0.71,-8.08 L-1.25,-6.69 L-1.94,-5.36 L-2.77,-4.11 L-3.72,-2.96 L-4.79,-1.91 L-5.96,-0.99 L-7.23,-0.19 L-8.57,0.47 L-9.98,0.98 L-10.24,0.98 L-8.94,0.47 L-7.73,-0.19 L-6.63,-0.99 L-5.65,-1.91 L-4.82,-2.96 L-4.12,-4.11 L-3.55,-5.36 L-3.11,-6.69 L-2.79,-8.08 L-2.57,-9.53 L-2.44,-11.01 L-2.40,-12.50 L-2.44,-13.99 L-2.57,-15.47 L-2.79,-16.92 L-3.11,-18.31 L-3.55,-19.64 L-4.12,-20.89 L-4.82,-22.04 L-5.65,-23.09 L-6.63,-24.01 L-7.73,-24.81 L-8.94,-25.47 L-10.24,-25.98Z" transform="translate(80,0)"/></g>
<g transform="translate(771.0,917.0) rotate(-90)"><path d="M9.98,-25.98 L8.57,-25.47 L7.23,-24.81 L5.96,-24.01 L4.79,-23.09 L3.72,-22.04 L2.77,-20.89 L1.94,-19.64 L1.25,-18.31 L0.71,-16.92 L0.32,-15.47 L0.08,-13.99 L0.00,-12.50 L0.08,-11.01 L0.32,-9.53 L0.71,-8.08 L1.25,-6.69 L1.94,-5.36 L2.77,-4.11 L3.72,-2.96 L4.79,-1.91 L5.96,-0.99 L7.23,-0.19 L8.57,0.47 L9.98,0.98 L10.24,0.98 L8.94,0.47 L7.73,-0.19 L6.63,-0.99 L5.65,-1.91 L4.82,-2.96 L4.12,-4.11 L3.55,-5.36 L3.11,-6.69 L2.79,-8.08 L2.57,-9.53 L2.44,-11.01 L2.40,-12.50 L2.44,-13.99 L2.57,-15.47 L2.79,-16.92 L3.11,-18.31 L3.55,-19.64 L4.12,-20.89 L4.82,-22.04 L5.65,-23.09 L6.63,-24.01 L7.73,-24.81 L8.94,-25.47 L10.24,-25.98Z" transform="translate(0,0)"/><text x="13.5" y="0" class="h">310</text><path d="M-9.98,-25.98 L-8.57,-25.47 L-7.23,-24.81 L-5.96,-24.01 L-4.79,-23.09 L-3.72,-22.04 L-2.77,-20.89 L-1.94,-19.64 L-1.25,-18.31 L-0.71,-16.92 L-0.32,-15.47 L-0.08,-13.99 L-0.00,-12.50 L-0.08,-11.01 L-0.32,-9.53 L-0.71,-8.08 L-1.25,-6.69 L-1.94,-5.36 L-2.77,-4.11 L-3.72,-2.96 L-4.79,-1.91 L-5.96,-0.99 L-7.23,-0.19 L-8.57,0.47 L-9.98,0.98 L-10.24,0.98 L-8.94,0.47 L-7.73,-0.19 L-6.63,-0.99 L-5.65,-1.91 L-4.82,-2.96 L-4.12,-4.11 L-3.55,-5.36 L-3.11,-6.69 L-2.79,-8.08 L-2.57,-9.53 L-2.44,-11.01 L-2.40,-12.50 L-2.44,-13.99 L-2.57,-15.47 L-2.79,-16.92 L-3.11,-18.31 L-3.55,-19.64 L-4.12,-20.89 L-4.82,-22.04 L-5.65,-23.09 L-6.63,-24.01 L-7.73,-24.81 L-8.94,-25.47 L-10.24,-25.98Z" transform="translate(80,0)"/></g>
<g transform="translate(843.0,915.0) rotate(-90)"><path d="M9.98,-25.98 L8.57,-25.47 L7.23,-24.81 L5.96,-24.01 L4.79,-23.09 L3.72,-22.04 L2.77,-20.89 L1.94,-19.64 L1.25,-18.31 L0.71,-16.92 L0.32,-15.47 L0.08,-13.99 L0.00,-12.50 L0.08,-11.01 L0.32,-9.53 L0.71,-8.08 L1.25,-6.69 L1.94,-5.36 L2.77,-4.11 L3.72,-2.96 L4.79,-1.91 L5.96,-0.99 L7.23,-0.19 L8.57,0.47 L9.98,0.98 L10.24,0.98 L8.94,0.47 L7.73,-0.19 L6.63,-0.99 L5.65,-1.91 L4.82,-2.96 L4.12,-4.11 L3.55,-5.36 L3.11,-6.69 L2.79,-8.08 L2.57,-9.53 L2.44,-11.01 L2.40,-12.50 L2.44,-13.99 L2.57,-15.47 L2.79,-16.92 L3.11,-18.31 L3.55,-19.64 L4.12,-20.89 L4.82,-22.04 L5.65,-23.09 L6.63,-24.01 L7.73,-24.81 L8.94,-25.47 L10.24,-25.98Z" transform="translate(0,0)"/><text x="13.5" y="0" class="h">222</text><path d="M-9.98,-25.98 L-8.57,-25.47 L-7.23,-24.81 L-5.96,-24.01 L-4.79,-23.09 L-3.72,-22.04 L-2.77,-20.89 L-1.94,-19.64 L-1.25,-18.31 L-0.71,-16.92 L-0.32,-15.47 L-0.08,-13.99 L-0.00,-12.50 L-0.08,-11.01 L-0.32,-9.53 L-0.71,-8.08 L-1.25,-6.69 L-1.94,-5.36 L-2.77,-4.11 L-3.72,-2.96 L-4.79,-1.91 L-5.96,-0.99 L-7.23,-0.19 L-8.57,0.47 L-9.98,0.98 L-10.24,0.98 L-8.94,0.47 L-7.73,-0.19 L-6.63,-0.99 L-5.65,-1.91 L-4.82,-2.96 L-4.12,-4.11 L-3.55,-5.36 L-3.11,-6.69 L-2.79,-8.08 L-2.57,-9.53 L-2.44,-11.01 L-2.40,-12.50 L-2.44,-13.99 L-2.57,-15.47 L-2.79,-16.92 L-3.11,-18.31 L-3.55,-19.64 L-4.12,-20.89 L-4.82,-22.04 L-5.65,-23.09 L-6.63,-24.01 L-7.73,-24.81 L-8.94,-25.47 L-10.24,-25.98Z" transform="translate(80,0)"/></g>
<g transform="translate(875.0,904.0) rotate(-90)"><path d="M9.98,-25.98 L8.57,-25.47 L7.23,-24.81 L5.96,-24.01 L4.79,-23.09 L3.72,-22.04 L2.77,-20.89 L1.94,-19.64 L1.25,-18.31 L0.71,-16.92 L0.32,-15.47 L0.08,-13.99 L0.00,-12.50 L0.08,-11.01 L0.32,-9.53 L0.71,-8.08 L1.25,-6.69 L1.94,-5.36 L2.77,-4.11 L3.72,-2.96 L4.79,-1.91 L5.96,-0.99 L7.23,-0.19 L8.57,0.47 L9.98,0.98 L10.24,0.98 L8.94,0.47 L7.73,-0.19 L6.63,-0.99 L5.65,-1.91 L4.82,-2.96 L4.12,-4.11 L3.55,-5.36 L3.11,-6.69 L2.79,-8.08 L2.57,-9.53 L2.44,-11.01 L2.40,-12.50 L2.44,-13.99 L2.57,-15.47 L2.79,-16.92 L3.11,-18.31 L3.55,-19.64 L4.12,-20.89 L4.82,-22.04 L5.65,-23.09 L6.63,-24.01 L7.73,-24.81 L8.94,-25.47 L10.24,-25.98Z" transform="translate(0,0)"/><text x="13.5" y="0" class="h">320</text><path d="M-9.98,-25.98 L-8.57,-25.47 L-7.23,-24.81 L-5.96,-24.01 L-4.79,-23.09 L-3.72,-22.04 L-2.77,-20.89 L-1.94,-19.64 L-1.25,-18.31 L-0.71,-16.92 L-0.32,-15.47 L-0.08,-13.99 L-0.00,-12.50 L-0.08,-11.01 L-0.32,-9.53 L-0.71,-8.08 L-1.25,-6.69 L-1.94,-5.36 L-2.77,-4.11 L-3.72,-2.96 L-4.79,-1.91 L-5.96,-0.99 L-7.23,-0.19 L-8.57,0.47 L-9.98,0.98 L-10.24,0.98 L-8.94,0.47 L-7.73,-0.19 L-6.63,-0.99 L-5.65,-1.91 L-4.82,-2.96 L-4.12,-4.11 L-3.55,-5.36 L-3.11,-6.69 L-2.79,-8.08 L-2.57,-9.53 L-2.44,-11.01 L-2.40,-12.50 L-2.44,-13.99 L-2.57,-15.47 L-2.79,-16.92 L-3.11,-18.31 L-3.55,-19.64 L-4.12,-20.89 L-4.82,-22.04 L-5.65,-23.09 L-6.63,-24.01 L-7.73,-24.81 L-8.94,-25.47 L-10.24,-25.98Z" transform="translate(80,0)"/></g>
<g transform="translate(906.6,909.6) rotate(-90)"><path d="M9.98,-25.98 L8.57,-25.47 L7.23,-24.81 L5.96,-24.01 L4.79,-23.09 L3.72,-22.04 L2.77,-20.89 L1.94,-19.64 L1.25,-18.31 L0.71,-16.92 L0.32,-15.47 L0.08,-13.99 L0.00,-12.50 L0.08,-11.01 L0.32,-9.53 L0.71,-8.08 L1.25,-6.69 L1.94,-5.36 L2.77,-4.11 L3.72,-2.96 L4.79,-1.91 L5.96,-0.99 L7.23,-0.19 L8.57,0.47 L9.98,0.98 L10.24,0.98 L8.94,0.47 L7.73,-0.19 L6.63,-0.99 L5.65,-1.91 L4.82,-2.96 L4.12,-4.11 L3.55,-5.36 L3.11,-6.69 L2.79,-8.08 L2.57,-9.53 L2.44,-11.01 L2.40,-12.50 L2.44,-13.99 L2.57,-15.47 L2.79,-16.92 L3.11,-18.31 L3.55,-19.64 L4.12,-20.89 L4.82,-22.04 L5.65,-23.09 L6.63,-24.01 L7.73,-24.81 L8.94,-25.47 L10.24,-25.98Z" transform="translate(0,0)"/><text x="13.5" y="0" class="h">321</text><path d="M-9.98,-25.98 L-8.57,-25.47 L-7.23,-24.81 L-5.96,-24.01 L-4.79,-23.09 L-3.72,-22.04 L-2.77,-20.89 L-1.94,-19.64 L-1.25,-18.31 L-0.71,-16.92 L-0.32,-15.47 L-0.08,-13.99 L-0.00,-12.50 L-0.08,-11.01 L-0.32,-9.53 L-0.71,-8.08 L-1.25,-6.69 L-1.94,-5.36 L-2.77,-4.11 L-3.72,-2.96 L-4.79,-1.91 L-5.96,-0.99 L-7.23,-0.19 L-8.57,0.47 L-9.98,0.98 L-10.24,0.98 L-8.94,0.47 L-7.73,-0.19 L-6.63,-0.99 L-5.65,-1.91 L-4.82,-2.96 L-4.12,-4.11 L-3.55,-5.36 L-3.11,-6.69 L-2.79,-8.08 L-2.57,-9.53 L-2.44,-11.01 L-2.40,-12.50 L-2.44,-13.99 L-2.57,-15.47 L-2.79,-16.92 L-3.11,-18.31 L-3.55,-19.64 L-4.12,-20.89 L-4.82,-22.04 L-5.65,-23.09 L-6.63,-24.01 L-7.73,-24.81 L-8.94,-25.47 L-10.24,-25.98Z" transform="translate(80,0)"/></g>
<g transform="translate(969.6,923.0) rotate(-90)"><path d="M9.98,-25.98 L8.57,-25.47 L7.23,-24.81 L5.96,-24.01 L4.79,-23.09 L3.72,-22.04 L2.77,-20.89 L1.94,-19.64 L1.25,-18.31 L0.71,-16.92 L0.32,-15.47 L0.08,-13.99 L0.00,-12.50 L0.08,-11.01 L0.32,-9.53 L0.71,-8.08 L1.25,-6.69 L1.94,-5.36 L2.77,-4.11 L3.72,-2.96 L4.79,-1.91 L5.96,-0.99 L7.23,-0.19 L8.57,0.47 L9.98,0.98 L10.24,0.98 L8.94,0.47 L7.73,-0.19 L6.63,-0.99 L5.65,-1.91 L4.82,-2.96 L4.12,-4.11 L3.55,-5.36 L3.11,-6.69 L2.79,-8.08 L2.57,-9.53 L2.44,-11.01 L2.40,-12.50 L2.44,-13.99 L2.57,-15.47 L2.79,-16.92 L3.11,-18.31 L3.55,-19.64 L4.12,-20.89 L4.82,-22.04 L5.65,-23.09 L6.63,-24.01 L7.73,-24.81 L8.94,-25.47 L10.24,-25.98Z" transform="translate(0,0)"/><text x="13.5" y="0" class="h">400</text><path d="M-9.98,-25.98 L-8.57,-25.47 L-7.23,-24.81 L-5.96,-24.01 L-4.79,-23.09 L-3.72,-22.04 L-2.77,-20.89 L-1.94,-19.64 L-1.25,-18.31 L-0.71,-16.92 L-0.32,-15.47 L-0.08,-13.99 L-0.00,-12.50 L-0.08,-11.01 L-0.32,-9.53 L-0.71,-8.08 L-1.25,-6.69 L-1.94,-5.36 L-2.77,-4.11 L-3.72,-2.96 L-4.79,-1.91 L-5.96,-0.99 L-7.23,-0.19 L-8.57,0.47 L-9.98,0.98 L-10.24,0.98 L-8.94,0.47 L-7.73,-0.19 L-6.63,-0.99 L-5.65,-1.91 L-4.82,-2.96 L-4.12,-4.11 L-3.55,-5.36 L-3.11,-6.69 L-2.79,-8.08 L-2.57,-9.53 L-2.44,-11.01 L-2.40,-12.50 L-2.44,-13.99 L-2.57,-15.47 L-2.79,-16.92 L-3.11,-18.31 L-3.55,-19.64 L-4.12,-20.89 L-4.82,-22.04 L-5.65,-23.09 L-6.63,-24.01 L-7.73,-24.81 L-8.94,-25.47 L-10.24,-25.98Z" transform="translate(80,0)"/></g>
<g transform="translate(1084.6,930.0) rotate(-90)"><path d="M9.98,-25.98 L8.57,-25.47 L7.23,-24.81 L5.96,-24.01 L4.79,-23.09 L3.72,-22.04 L2.77,-20.89 L1.94,-19.64 L1.25,-18.31 L0.71,-16.92 L0.32,-15.47 L0.08,-13.99 L0.00,-12.50 L0.08,-11.01 L0.32,-9.53 L0.71,-8.08 L1.25,-6.69 L1.94,-5.36 L2.77,-4.11 L3.72,-2.96 L4.79,-1.91 L5.96,-0.99 L7.23,-0.19 L8.57,0.47 L9.98,0.98 L10.24,0.98 L8.94,0.47 L7.73,-0.19 L6.63,-0.99 L5.65,-1.91 L4.82,-2.96 L4.12,-4.11 L3.55,-5.36 L3.11,-6.69 L2.79,-8.08 L2.57,-9.53 L2.44,-11.01 L2.40,-12.50 L2.44,-13.99 L2.57,-15.47 L2.79,-16.92 L3.11,-18.31 L3.55,-19.64 L4.12,-20.89 L4.82,-22.04 L5.65,-23.09 L6.63,-24.01 L7.73,-24.81 L8.94,-25.47 L10.24,-25.98Z" transform="translate(0,0)"/><text x="13.5" y="0" class="h">420</text><path d="M-9.98,-25.98 L-8.57,-25.47 L-7.23,-24.81 L-5.96,-24.01 L-4.79,-23.09 L-3.72,-22.04 L-2.77,-20.89 L-1.94,-19.64 L-1.25,-18.31 L-0.71,-16.92 L-0.32,-15.47 L-0.08,-13.99 L-0.00,-12.50 L-0.08,-11.01 L-0.32,-9.53 L-0.71,-8.08 L-1.25,-6.69 L-1.94,-5.36 L-2.77,-4.11 L-3.72,-2.96 L-4.79,-1.91 L-5.96,-0.99 L-7.23,-0.19 L-8.57,0.47 L-9.98,0.98 L-10.24,0.98 L-8.94,0.47 L-7.73,-0.19 L-6.63,-0.99 L-5.65,-1.91 L-4.82,-2.96 L-4.12,-4.11 L-3.55,-5.36 L-3.11,-6.69 L-2.79,-8.08 L-2.57,-9.53 L-2.44,-11.01 L-2.40,-12.50 L-2.44,-13.99 L-2.57,-15.47 L-2.79,-16.92 L-3.11,-18.31 L-3.55,-19.64 L-4.12,-20.89 L-4.82,-22.04 L-5.65,-23.09 L-6.63,-24.01 L-7.73,-24.81 L-8.94,-25.47 L-10.24,-25.98Z" transform="translate(80,0)"/></g>
<g transform="translate(1112.5,912.6) rotate(-90)"><path d="M9.98,-25.98 L8.57,-25.47 L7.23,-24.81 L5.96,-24.01 L4.79,-23.09 L3.72,-22.04 L2.77,-20.89 L1.94,-19.64 L1.25,-18.31 L0.71,-16.92 L0.32,-15.47 L0.08,-13.99 L0.00,-12.50 L0.08,-11.01 L0.32,-9.53 L0.71,-8.08 L1.25,-6.69 L1.94,-5.36 L2.77,-4.11 L3.72,-2.96 L4.79,-1.91 L5.96,-0.99 L7.23,-0.19 L8.57,0.47 L9.98,0.98 L10.24,0.98 L8.94,0.47 L7.73,-0.19 L6.63,-0.99 L5.65,-1.91 L4.82,-2.96 L4.12,-4.11 L3.55,-5.36 L3.11,-6.69 L2.79,-8.08 L2.57,-9.53 L2.44,-11.01 L2.40,-12.50 L2.44,-13.99 L2.57,-15.47 L2.79,-16.92 L3.11,-18.31 L3.55,-19.64 L4.12,-20.89 L4.82,-22.04 L5.65,-23.09 L6.63,-24.01 L7.73,-24.81 L8.94,-25.47 L10.24,-25.98Z" transform="translate(0,0)"/><text x="13.5" y="0" class="h">421</text><path d="M-9.98,-25.98 L-8.57,-25.47 L-7.23,-24.81 L-5.96,-24.01 L-4.79,-23.09 L-3.72,-22.04 L-2.77,-20.89 L-1.94,-19.64 L-1.25,-18.31 L-0.71,-16.92 L-0.32,-15.47 L-0.08,-13.99 L-0.00,-12.50 L-0.08,-11.01 L-0.32,-9.53 L-0.71,-8.08 L-1.25,-6.69 L-1.94,-5.36 L-2.77,-4.11 L-3.72,-2.96 L-4.79,-1.91 L-5.96,-0.99 L-7.23,-0.19 L-8.57,0.47 L-9.98,0.98 L-10.24,0.98 L-8.94,0.47 L-7.73,-0.19 L-6.63,-0.99 L-5.65,-1.91 L-4.82,-2.96 L-4.12,-4.11 L-3.55,-5.36 L-3.11,-6.69 L-2.79,-8.08 L-2.57,-9.53 L-2.44,-11.01 L-2.40,-12.50 L-2.44,-13.99 L-2.57,-15.47 L-2.79,-16.92 L-3.11,-18.31 L-3.55,-19.64 L-4.12,-20.89 L-4.82,-22.04 L-5.65,-23.09 L-6.63,-24.01 L-7.73,-24.81 L-8.94,-25.47 L-10.24,-25.98Z" transform="translate(80,0)"/></g>
<g transform="translate(1142.0,928.5) rotate(-90)"><path d="M9.98,-25.98 L8.57,-25.47 L7.23,-24.81 L5.96,-24.01 L4.79,-23.09 L3.72,-22.04 L2.77,-20.89 L1.94,-19.64 L1.25,-18.31 L0.71,-16.92 L0.32,-15.47 L0.08,-13.99 L0.00,-12.50 L0.08,-11.01 L0.32,-9.53 L0.71,-8.08 L1.25,-6.69 L1.94,-5.36 L2.77,-4.11 L3.72,-2.96 L4.79,-1.91 L5.96,-0.99 L7.23,-0.19 L8.57,0.47 L9.98,0.98 L10.24,0.98 L8.94,0.47 L7.73,-0.19 L6.63,-0.99 L5.65,-1.91 L4.82,-2.96 L4.12,-4.11 L3.55,-5.36 L3.11,-6.69 L2.79,-8.08 L2.57,-9.53 L2.44,-11.01 L2.40,-12.50 L2.44,-13.99 L2.57,-15.47 L2.79,-16.92 L3.11,-18.31 L3.55,-19.64 L4.12,-20.89 L4.82,-22.04 L5.65,-23.09 L6.63,-24.01 L7.73,-24.81 L8.94,-25.47 L10.24,-25.98Z" transform="translate(0,0)"/><text x="13.5" y="0" class="h">332</text><path d="M-9.98,-25.98 L-8.57,-25.47 L-7.23,-24.81 L-5.96,-24.01 L-4.79,-23.09 L-3.72,-22.04 L-2.77,-20.89 L-1.94,-19.64 L-1.25,-18.31 L-0.71,-16.92 L-0.32,-15.47 L-0.08,-13.99 L-0.00,-12.50 L-0.08,-11.01 L-0.32,-9.53 L-0.71,-8.08 L-1.25,-6.69 L-1.94,-5.36 L-2.77,-4.11 L-3.72,-2.96 L-4.79,-1.91 L-5.96,-0.99 L-7.23,-0.19 L-8.57,0.47 L-9.98,0.98 L-10.24,0.98 L-8.94,0.47 L-7.73,-0.19 L-6.63,-0.99 L-5.65,-1.91 L-4.82,-2.96 L-4.12,-4.11 L-3.55,-5.36 L-3.11,-6.69 L-2.79,-8.08 L-2.57,-9.53 L-2.44,-11.01 L-2.40,-12.50 L-2.44,-13.99 L-2.57,-15.47 L-2.79,-16.92 L-3.11,-18.31 L-3.55,-19.64 L-4.12,-20.89 L-4.82,-22.04 L-5.65,-23.09 L-6.63,-24.01 L-7.73,-24.81 L-8.94,-25.47 L-10.24,-25.98Z" transform="translate(80,0)"/></g>
<g transform="translate(1333.0,923.0) rotate(-90)"><path d="M9.98,-25.98 L8.57,-25.47 L7.23,-24.81 L5.96,-24.01 L4.79,-23.09 L3.72,-22.04 L2.77,-20.89 L1.94,-19.64 L1.25,-18.31 L0.71,-16.92 L0.32,-15.47 L0.08,-13.99 L0.00,-12.50 L0.08,-11.01 L0.32,-9.53 L0.71,-8.08 L1.25,-6.69 L1.94,-5.36 L2.77,-4.11 L3.72,-2.96 L4.79,-1.91 L5.96,-0.99 L7.23,-0.19 L8.57,0.47 L9.98,0.98 L10.24,0.98 L8.94,0.47 L7.73,-0.19 L6.63,-0.99 L5.65,-1.91 L4.82,-2.96 L4.12,-4.11 L3.55,-5.36 L3.11,-6.69 L2.79,-8.08 L2.57,-9.53 L2.44,-11.01 L2.40,-12.50 L2.44,-13.99 L2.57,-15.47 L2.79,-16.92 L3.11,-18.31 L3.55,-19.64 L4.12,-20.89 L4.82,-22.04 L5.65,-23.09 L6.63,-24.01 L7.73,-24.81 L8.94,-25.47 L10.24,-25.98Z" transform="translate(0,0)"/><text x="13.5" y="0" class="h">520</text><path d="M-9.98,-25.98 L-8.57,-25.47 L-7.23,-24.81 L-5.96,-24.01 L-4.79,-23.09 L-3.72,-22.04 L-2.77,-20.89 L-1.94,-19.64 L-1.25,-18.31 L-0.71,-16.92 L-0.32,-15.47 L-0.08,-13.99 L-0.00,-12.50 L-0.08,-11.01 L-0.32,-9.53 L-0.71,-8.08 L-1.25,-6.69 L-1.94,-5.36 L-2.77,-4.11 L-3.72,-2.96 L-4.79,-1.91 L-5.96,-0.99 L-7.23,-0.19 L-8.57,0.47 L-9.98,0.98 L-10.24,0.98 L-8.94,0.47 L-7.73,-0.19 L-6.63,-0.99 L-5.65,-1.91 L-4.82,-2.96 L-4.12,-4.11 L-3.55,-5.36 L-3.11,-6.69 L-2.79,-8.08 L-2.57,-9.53 L-2.44,-11.01 L-2.40,-12.50 L-2.44,-13.99 L-2.57,-15.47 L-2.79,-16.92 L-3.11,-18.31 L-3.55,-19.64 L-4.12,-20.89 L-4.82,-22.04 L-5.65,-23.09 L-6.63,-24.01 L-7.73,-24.81 L-8.94,-25.47 L-10.24,-25.98Z" transform="translate(80,0)"/></g>
</svg></body></html>
